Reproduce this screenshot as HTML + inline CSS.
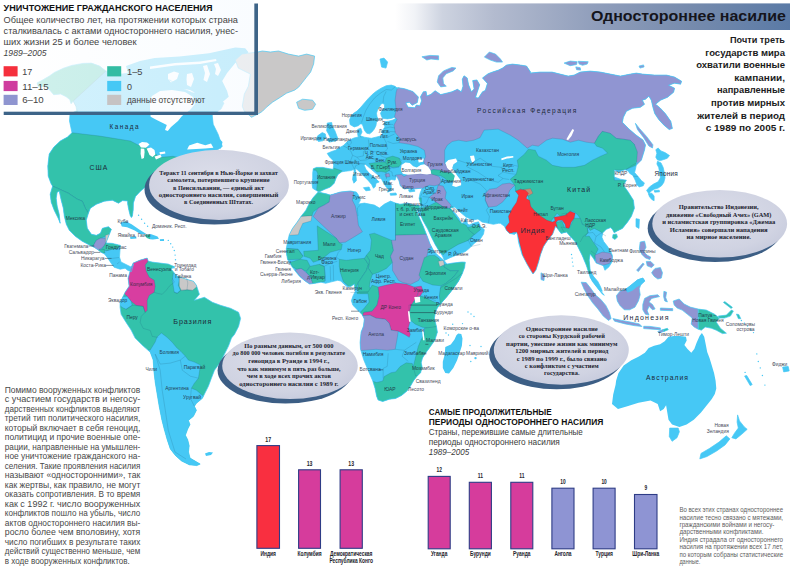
<!DOCTYPE html>
<html lang="ru"><head><meta charset="utf-8"><title>Одностороннее насилие</title>
<style>html,body{margin:0;padding:0;background:#fff}body{width:790px;height:568px;overflow:hidden}svg{display:block}text{font-family:"Liberation Sans",sans-serif}.sf{font-family:"Liberation Serif",serif;font-weight:bold}</style></head><body>
<svg width="790" height="568" viewBox="0 0 790 568">
<defs>
<clipPath id="cNA"><path d="M49.5 75.9L54.4 72.4L63.4 68.2L71.8 65.4L82.9 63.4L91.3 63.1L99.6 66.1L105.9 71L122 74L136 72L148 77L160 82L170 80L178 86L186 90L193 93L200 92L207 95L212 101L218 99L224 103L221 109L212.2 115.3L213.2 124.3L218.2 134.4L220.2 140.4L222.3 146.4L218.2 149.4L200 158L186 160L172 164L165 168L160 172L155 177L149.6 182.1L146.6 186.1L140.6 191.1L135.5 196.5L133.4 203L133.2 210L132.4 216L131.4 217.6L130.2 215.5L128.6 209L127.6 203.5L127.6 201L122.5 200.6L118.5 203.2L112.4 200.2L104.4 201.2L96.4 204.2L90.4 208.2L88.4 213.2L86.3 220.3L87.3 228.3L91.4 234.3L96.4 235.3L100.4 233.3L102.4 228.3L108.4 226.7L111.4 229.3L109.4 234.3L107.4 239.3L106 243L112.4 243.4L120.5 245.4L120 250L119.5 257L121 262L126 264.5L131 267L133.5 264L131.5 271.5L128 270.5L125.1 268.2L120.1 269.2L114.1 267.2L111 263L108 258.4L104.5 254L101.4 252.4L97.4 249.4L94.4 247.4L88.4 244.4L82.3 241.3L75.3 236.3L69.3 230.3L66.3 224.3L64.3 216.2L63.3 208.2L61.2 200.2L59.2 191.1L57.2 192.2L56.2 198.2L57.2 206.2L59.2 214.2L60.2 223.3L58.2 218.3L54.2 210.2L51.2 202.2L50.2 194.2L52.6 186.1L51.2 184.1L48.2 176.1L47.8 166L49.2 154L53.9 147L60.3 141L67.5 137L72 132.7L71 128L69.5 121L70 114.3L74 112L76.7 110.7L76 106.5L73.2 101L71.1 103.7L69.7 99.6L66.2 96.8L60.6 94L53.7 94.7L49.5 89.8L45.3 86.3L38.4 87L37 82.9L42.5 80.1Z"/><path d="M210 140L218 137.5L222.5 142L221 148.5L214 148L210.5 145Z"/><path d="M126 66L140 61L154.7 58.1L179.4 56.5L209 53.2L235.3 47.4L245.2 48.2L248.5 52.3L235.3 63L227.1 72.9L222.2 81.1L227.1 91L228.7 96.8L222.2 102.5L212.3 105.8L204 103.4L200 96L195.8 93L190 90L180 88L170 86L160 84L150 80L138 76L128 73Z"/></clipPath>
<clipPath id="cSA"><path d="M130.1 271.2L133.1 263.1L140.2 260.1L147.2 258.1L148.2 261.1L152.2 262.1L160.2 263.1L168.3 264.1L173.3 266.2L171.3 269.2L175.3 274.2L177.3 276.2L186.3 279.2L193.4 281.2L196.4 285.2L199.4 294.3L194.4 300.3L204.4 297.3L212.4 302.3L220.5 305.3L230.5 308.3L238.6 312.3L240.6 318.4L238.6 326.4L234.5 334.4L231.5 338L228.5 346.1L224.5 354.1L220.5 362.1L214.5 370.2L211.4 378.2L208.4 386.2L205.4 392.2L202.4 398.3L196.4 403.3L194.4 406.3L196.4 410.3L193.4 416.3L188.4 420.4L190 424.6L187.7 429.1L185.4 435.2L187.7 439.7L189.2 445.8L188.5 451.9L190 458L193.8 460.3L200.2 464.1L196.8 465.6L189.2 464.8L181.6 461L175.6 455.7L170.3 448.9L167.2 439.7L164.2 429.1L161.9 420L159.2 406.3L157.2 394.3L155.2 382.2L153.8 370.2L153.2 360.1L150.2 352.1L143.2 346.1L135.1 338L131.1 330L126.1 322.4L121.1 314.3L120.1 307.3L120.1 302.3L122.1 298.3L125.1 292.3L129.1 286.2L128.1 278.2Z"/><path d="M190 458L193.8 460.3L200.2 464.1L196.8 465.6L189.2 464.8Z"/></clipPath>
<clipPath id="cAF"><path d="M318.2 192L327.2 194.1L330.2 195.1L340.3 192L350.3 191L356.3 192L358.4 195.1L360.4 200.1L358.4 204.1L364.4 203.1L374.4 205.1L379.4 208.1L384.5 204.1L390.5 201.1L395.5 203.1L400 204.2L408 203.2L414.1 205.2L419.1 205.2L421 210L420.1 216.3L417.5 210L416 209L419 217L423.1 226L427.1 236L430.1 244L434.1 251.5L438.7 256L443.6 260L447 264L453 263L462 262L465.3 262.2L464.6 267.5L462.3 273.6L458.5 281.2L453.2 288.8L447.1 296.4L442.5 301.7L438 307L435.7 311L434.4 318.2L436.4 326.2L437.4 332.2L434.8 340.3L429 348.5L425.3 353.5L422.5 358L421.2 362.8L422.2 367.3L420.6 372.7L416.8 376.5L413.8 380.3L410.8 385.6L407 390.9L401.6 395.4L395.6 398.5L389.5 399.2L382.7 401.5L378.1 400L376.6 396.2L375.1 388.6L372.8 381L368.2 370.4L363.7 359.7L360.5 349.1L360.1 342.3L361.1 332.2L363.5 326L364.3 319L362 314.4L357.5 309.9L352.9 305.3L351.4 300.8L352.9 296.2L355.2 291.6L354.4 284L351 286.3L347.6 287.1L343.8 284L340.8 281L337.7 280.3L331.6 281.8L325.6 283.3L321 282.2L315 283.3L309.6 284L305.1 281L299.7 276.5L295.2 271.1L291.4 265.8L287.6 259.5L286.6 254.4L286.3 248.4L287.8 240.8L289.3 234.7L292.4 228.6L296.9 222.5L301.5 215.7L305.8 210.4L309 204L313 197.8Z"/></clipPath>
<clipPath id="cEA"><path d="M350.7 116.8L353.2 113.6L357 111.1L360.8 107.2L364.6 102.8L368.4 98.4L372.2 94.6L376 91.4L381.1 88.2L386.2 85.7L391.3 85.1L395.1 86.3L398.2 88.9L397.5 87.6L404.5 88.7L412.9 91.5L418.4 97.1L417.3 102.6L412.2 105.3L409.4 102.2L405.9 102.9L408 107.1L414.9 107.8L416.3 105L419.8 105.7L421.5 100.8L420.5 96.7L423.3 91.8L426.1 91.5L426.8 96L431 94.3L435.1 90.7L440.7 94.6L446.3 93.2L451.9 91.8L457.4 89.3L461.3 91.8L463 86.2L462.3 79.2L464 75.8L467.2 77.9L468.6 84.8L471.4 91.8L474.1 89L472.7 80.6L476.9 79.9L479.7 84.8L475.5 97.4L478.3 98.1L482.5 91.8L485.3 90.4L487.4 83.4L482.5 77.9L488.1 73.7L492.4 72.1L498.5 70.1L502.5 68.1L506.5 65.1L512.5 64.1L520.6 65.1L526.6 66.1L530.6 72.1L530 73.1L540 72.1L552.1 72.1L560.1 74.1L568.2 76.1L574.2 75.1L580.2 72.1L590.2 71.1L600.3 72.1L610.3 74.1L620.4 76.1L630.4 74.1L636.4 73.1L642.4 74.1L654.5 75.1L666.5 75.1L674.6 77.1L681.6 81.2L680.6 84.2L674.6 83.2L668.6 85.2L674.6 88.2L673.6 92.2L667.6 97.2L660.5 100.2L655.5 104.3L656.9 105.3L660.1 107.9L665.3 113.5L670.8 121.3L672.4 128.4L669.2 129.6L663.7 124.9L658.7 119.5L654.7 113.5L652.9 107.3L651.3 100.2L648.9 96.2L645.5 99.2L642.4 100.2L644.5 104.3L640.4 107.3L632.4 108.3L626.4 111.3L623.4 117.3L622.4 122.3L629 129L636 135L643 140L645.5 145L644.5 150L641.4 160.1L636.4 165.1L636.9 162.3L635.8 167.5L634.6 172.6L638.1 176.6L641.5 180.7L644.4 182.9L643.2 185.8L639.2 186.9L636.9 184.7L635.2 180.1L632.9 175.5L629.5 173.2L628.3 170.9L625 169.8L618.4 172.1L614.3 170.1L614.3 177.1L620.4 179.2L626.4 180.2L623.4 185.2L628.4 192.2L633.4 200.2L634.4 208.3L631.4 216.3L627.4 222.3L622.4 228.4L616.3 231.4L614.2 232.8L612.5 229.5L610.7 227.6L606.3 229.3L602.8 232.8L601.9 237.2L603.7 241.6L607.2 246L610.7 251.3L612.5 255.7L612 261.9L609 266.8L604.9 270.3L603.3 265.7L600.2 264.5L596.2 263.1L593.2 258.1L590.2 254.1L589.2 260.1L590.2 270.2L593.2 276.2L595.2 283.2L600.2 290.2L604.3 295.3L602.2 293.9L597.2 287.6L592.2 281.2L589.2 274.2L586.2 265.1L582 255L575.5 242L569.9 236L566.5 232L565.1 232.4L561.1 233.4L558.1 229.4L555.6 226.3L552.6 234.3L547.6 240.4L543.6 246.4L540.6 254.4L538.6 262L536 270L533 274L530.5 270L527 264.1L522 254.4L518.6 242.5L517.6 235.4L516.6 232.4L514.6 234.4L509.5 233.4L506.5 230.4L504.4 226.3L500.4 223.3L498.4 223.3L493.4 224.3L488.4 223.3L482 222L478 219L473 220L466 217L460 212L455 207L450.2 208.2L455.5 213.6L459.2 218.5L461.7 223.4L464.5 222L466 217.8L467.4 223.4L469 225L474 223L478.5 221.8L480.5 226.5L484.3 229.6L483.5 234.1L480.5 238.7L474.4 243.2L469.9 247.8L465.3 251.6L457.7 254.6L450.1 257.7L444.4 260.4L442.5 256.1L438.8 250.6L435.1 244.4L431.4 237L427.7 229L422.8 220.3L419.8 213L419.3 208.2L421 206L419.1 198.2L420.1 193.2L422.1 188.2L419.3 188.4L414.2 189L409.2 188.4L404.1 189L400.3 185.8L399 180.8L396.5 175.7L395.1 180.1L391.5 179.5L388.7 180.7L391.3 185.8L391.3 190.8L387.5 192.1L388.7 189.6L386.2 187L383.7 183.2L381.7 179.4L378.6 175.6L374.1 171.8L369.7 168L365.3 164.2L364 164.9L365.9 169.3L369.1 173.1L372.9 176.3L377.3 180.1L379.2 182L376 183.2L375.4 186.4L373.5 188.3L371.6 184.5L368.4 180.7L364.6 176.9L360.8 173.1L357.7 169.9L355.8 168.7L354.5 169.3L350.7 170.6L345.6 171.2L341.8 171.8L338 174.4L336.1 178.2L334.2 183.2L330.4 187L324.1 189.6L319 192.1L315.8 190.2L312.7 188.3L312 183.2L312.7 178.2L312.7 173.1L313.3 168.7L316.5 167.4L322.8 167.4L329.2 168.7L333.2 169.3L333.6 165.5L333 160.4L329.8 157.2L327.2 153.4L331.7 151.5L335.5 150.3L339.3 147.7L343.1 145.8L346.9 142L350.7 139.5L354 138L358.3 137L357.7 134.5L357.7 129.4L360.8 128.2L362.1 132L360.2 135.8L364.4 137.2L367.9 137.8L371.3 138.3L375.9 137.2L380.5 136L382.7 133.8L381.6 132L383.3 129.2L385 126.9L383.9 124.6L385 121.7L388.5 121.2L393 120L395.5 118.6L394.2 117.2L391.9 118.3L387.3 118.9L382.7 118.3L381.6 116.6L380.5 113.2L382.2 110.3L384.5 107.5L384.5 104.6L382.7 103.4L381 104L379.3 106.9L377.6 109.7L376.5 113.2L377 116.6L378.2 119.5L376.5 122.3L375.9 125.8L374.2 129.2L371.9 132L369.6 133.8L366.7 133.2L364.4 130.3L363.3 126.9L362.2 124L360.4 124L358.2 125.8L354.2 126.9L350.1 124.6L349.6 120Z"/></clipPath>
<linearGradient id="gTitle" x1="0" x2="1" y1="0" y2="0"><stop offset="0" stop-color="#ffffff"/><stop offset=".05" stop-color="#f1f3f7"/><stop offset=".12" stop-color="#cdd3e0"/><stop offset=".25" stop-color="#b3bbcf"/><stop offset=".5" stop-color="#919fbc"/><stop offset=".75" stop-color="#768bad"/><stop offset="1" stop-color="#5a7aa6"/></linearGradient>
<linearGradient id="gBox" x1="0" x2="1" y1="0" y2="0"><stop offset="0" stop-color="#ffffff" stop-opacity=".77"/><stop offset="1" stop-color="#f7fbff" stop-opacity=".73"/></linearGradient>
<radialGradient id="gEl" cx=".45" cy=".4" r=".75"><stop offset="0" stop-color="#dcdeea"/><stop offset=".65" stop-color="#d0d3e2"/><stop offset="1" stop-color="#c0c5d9"/></radialGradient>
</defs>
<rect width="790" height="568" fill="#fff"/>
<g id="map">
<g clip-path="url(#cNA)">
<rect x="30" y="40" width="220" height="250" fill="#46c8f5"/>
<path d="M40 132.7L72 132.7L100 136.1L130.4 141L138.5 145.2L146 147L152 151L158 156L161 157.3L173 156.3L187 159.4L205 165L205 226L88.4 226L88.4 213.2L85.3 208.2L82.3 201.2L77.3 199.2L68.3 193.2L58 188.5L52.6 186.1L40 186.1Z" fill="#33c2ab" stroke="#1f5f7d" stroke-opacity=".45" stroke-width=".45" stroke-linejoin="round"/>
<path d="M30 58L91.3 58L99.6 63L105.9 71L73.2 101L76 106.5L77.5 111.5L60 112L30 100Z" fill="#33c2ab" stroke="#1f5f7d" stroke-opacity=".45" stroke-width=".45" stroke-linejoin="round"/>
<path d="M45 186.1L52.6 186.1L58 188.5L68.3 193.2L77.3 199.2L82.3 201.2L85.3 208.2L88.4 213.2L98 213L116 225L113 231L108.4 235.3L105.4 236.3L100.4 238.3L96.4 240.3L93.4 245.4L94.4 250L45 250Z" fill="#33c2ab" stroke="#1f5f7d" stroke-opacity=".45" stroke-width=".45" stroke-linejoin="round"/>
<path d="M93.4 245.4L96.4 240.3L100.4 238.3L105.4 238.3L106.4 242.4L104.4 245.4L101.4 248.4L98 251L94 249Z" fill="#9095d2" stroke="#1f5f7d" stroke-opacity=".45" stroke-width=".45" stroke-linejoin="round"/>
<path d="M105.4 235.3L109.5 234L109.5 242.4L105.4 242.4Z" fill="#c9c8c8" stroke="#1f5f7d" stroke-opacity=".45" stroke-width=".45" stroke-linejoin="round"/>
<path d="M104.4 245.4L106 242L112.4 242.4L121.5 244.4L117.5 248.4L111.4 249.4L106.4 250.8L101.4 249.4Z" fill="#33c2ab" stroke="#1f5f7d" stroke-opacity=".45" stroke-width=".45" stroke-linejoin="round"/>
<path d="M99 249.2L104.4 249.6L105 253L99 253Z" fill="#33c2ab" stroke="#1f5f7d" stroke-opacity=".45" stroke-width=".45" stroke-linejoin="round"/>
</g>
<path d="M138.5 144L142 142L147 142.4L149.5 144.5L146 147.8L141 147.6Z" fill="#fff" />
<path d="M140.8 148.5L144.2 148.8L144.6 152L144 158L141.6 159L140.6 154Z" fill="#fff" />
<path d="M146.6 148.6L151 147.6L154.5 150L155.4 154.5L152.5 157L149.5 155L148 151.5Z" fill="#fff" />
<path d="M154.5 156.6L160.5 154.8L161.6 157L156 159.4Z" fill="#fff" />
<path d="M159.4 152.2L165 151.4L165.4 153.6L160 154.4Z" fill="#fff" />
<path d="M168 74L174 71.5L179 73L177 79L171 82.5L168 79Z" fill="#fff" />
<path d="M187 74L192 73L194 79L191 87L187 85L186.5 79Z" fill="#fff" />
<path d="M150 66.5L175 63L200 61.5L216 59L216.5 61L200 64L175 65.5L150 69Z" fill="#fff" />
<path d="M203 66L207 65L210 74L207 82L203.5 80L205 73Z" fill="#fff" />
<path d="M214 64L218 63L221 70L218 76L215 74L216 69Z" fill="#fff" />
<path d="M152 96L160 91L172 90L185 92L193 97L195 104L190 110L182 116L178 121L171 127L167.8 131L165 130L166.8 125L162.8 123L156.7 120L150.6 116.8L150 108L150 100Z" fill="#fff" />
<path d="M187.1 149.6L189.1 145.5L197.2 142.8L205.3 145.2L211 143.5L213.4 147.8L205 148.6Z" fill="#fff" />
<path d="M235.3 60.1L242 54L257.8 52L262.4 51L270.4 52L278.5 51L288.5 54.1L298.6 56.1L306.6 54.1L314.6 56.1L313.6 64.1L310.6 72.1L306.6 77.1L302.6 82.2L298.6 87.2L294.5 90.2L286.5 93.2L280.5 97.2L272.5 102.2L266.4 107.3L262.4 111.3L259.4 113.3L251.4 117.3L249.4 115.3L244.3 111.3L242.3 106.3L244.3 94.2L248.4 86.2L250.4 74.1L238.3 68.1Z" fill="#c9c8c8" stroke="#46c8f5" stroke-width=".7" stroke-linejoin="round"/>
<path d="M296.6 102.2L302.6 99.2L312.6 100.2L315.6 104.3L312.6 109.3L304.6 110.3L298.6 108.3Z" fill="#c9c8c8" stroke="#46c8f5" stroke-width=".7" stroke-linejoin="round"/>
<path d="M120.3 222.8L125.6 221.3L131.6 224.3L139.2 229.6L146.8 234.2L140.8 234.2L134.7 230.4L127.1 227.3L121.8 226.6Z" fill="#46c8f5" />
<path d="M144.6 234.9L150 234.2L150 239.2L146.8 238Z" fill="#33c2ab" />
<path d="M150 234.2L151.4 234.2L157.5 236.5L159 238.7L152.9 239.5L150 239.2Z" fill="#46c8f5" />
<path d="M130 236.8L136 236.6L136.5 238.6L130.5 239Z" fill="#46c8f5" />
<path d="M159.8 239.2L163.9 239L164.1 240.9L160 241.1Z" fill="#46c8f5" />
<path d="M171.5 266.2L174.7 265.8L174.7 268.2L171.7 268.4Z" fill="#46c8f5" />
<g clip-path="url(#cSA)">
<rect x="110" y="250" width="140" height="230" fill="#33c2ab"/>
<path d="M140 350.1L150.2 350.1L155.2 342L157 337L161.4 333L166.7 337L172 342L176.5 347.5L181 351.5L185.3 356.1L188.4 360.1L194.4 362.1L200.4 365.1L199.4 372.2L198.4 378.2L194.4 383.2L191.4 388.2L196.4 390.2L202.4 395.3L206 398L218 402L218 472L140 472Z" fill="#46c8f5" stroke="#1f5f7d" stroke-opacity=".45" stroke-width=".45" stroke-linejoin="round"/>
<path d="M129 272L132 262L140.2 259L147.2 257L148.2 261.1L145.2 265.1L146.2 271.2L149.2 277.2L154.2 280.2L155.2 286.2L154.2 292.3L149.2 295.3L147.2 300.3L147.2 310.3L145.2 312.3L143.2 306.3L136.1 305.3L131.1 301.3L127.1 296.3L123 292.3L127 286.2L126 278.2Z" fill="#d83ea0" stroke="#1f5f7d" stroke-opacity=".45" stroke-width=".45" stroke-linejoin="round"/>
<path d="M118 297L127.1 296.3L131.1 301.3L132.1 305.3L126.1 309.3L122.1 307.3L117 303Z" fill="#46c8f5" stroke="#1f5f7d" stroke-opacity=".45" stroke-width=".45" stroke-linejoin="round"/>
<path d="M173.3 273L178 274.5L179.3 280.2L178.3 285.2L180.3 290.2L177.3 293.3L174.3 292.3L173.3 286.2L172.3 280.2Z" fill="#46c8f5" stroke="#1f5f7d" stroke-opacity=".45" stroke-width=".45" stroke-linejoin="round"/>
<path d="M179.3 274L186.3 276.5L193.4 278.5L198.5 285.2L192.4 290.5L187.3 289.8L181.3 290.4L179.3 286.2Z" fill="#c9c8c8" stroke="#1f5f7d" stroke-opacity=".45" stroke-width=".45" stroke-linejoin="round"/>
</g>
<path d="M205 453.5L209 452L213 452.5L211 455L206 456Z" fill="#46c8f5" />
<g clip-path="url(#cAF)">
<rect x="280" y="185" width="200" height="225" fill="#46c8f5"/>
<path d="M316 190L331.3 194.1L329.2 202.1L324.2 205.1L318.2 208.1L313.2 212.1L311.9 216L296 217L300 204Z" fill="#33c2ab" stroke="#1f5f7d" stroke-opacity=".45" stroke-width=".45" stroke-linejoin="round"/>
<path d="M296 216.8L311.9 215.7L311.1 221L302.8 223.3L299.7 230.1L298.2 234.7L286 235.6L290 228Z" fill="#c9c8c8" stroke="#1f5f7d" stroke-opacity=".45" stroke-width=".45" stroke-linejoin="round"/>
<path d="M330.2 194.5L340.3 191L350.3 190L353.7 192.4L352.3 200.1L355.3 206.1L357.3 216.1L358.4 225.2L362.4 231.8L355.3 236.2L345.3 242.2L339.3 242.7L336.3 238.2L313.2 216.5L318.2 208.1L324.2 205.1L329.2 202.1Z" fill="#9095d2" stroke="#1f5f7d" stroke-opacity=".45" stroke-width=".45" stroke-linejoin="round"/>
<path d="M317.2 225.8L336.3 238.2L339.3 242.7L342.3 244.3L341.3 249.3L330.2 252.3L324.2 257.3L319.2 260.3L313.2 262.3L310.2 258.3L304.1 256.3L303.7 251.3L318.2 250.3Z" fill="#33c2ab" stroke="#1f5f7d" stroke-opacity=".45" stroke-width=".45" stroke-linejoin="round"/>
<path d="M285.1 248.3L298.1 249.3L303.1 256.3L300.1 259.3L287.1 259.7Z" fill="#33c2ab" stroke="#1f5f7d" stroke-opacity=".45" stroke-width=".45" stroke-linejoin="round"/>
<path d="M290.1 262.3L300.1 259.3L307.1 260.3L310.2 266.3L306.1 271.4L301.1 268.4L297.1 269.4L292.1 266.7Z" fill="#33c2ab" stroke="#1f5f7d" stroke-opacity=".45" stroke-width=".45" stroke-linejoin="round"/>
<path d="M295.1 269.8L301.1 268.4L306.1 272.4L310.2 276.4L313.8 284.4L308.2 284.4L302.1 278.8L297.1 272.8Z" fill="#9095d2" stroke="#1f5f7d" stroke-opacity=".45" stroke-width=".45" stroke-linejoin="round"/>
<path d="M310.2 266.3L319.2 264.3L324.2 266.3L325.2 276.4L324.6 281.4L318.2 282.4L313.2 284.8L310.2 276.4L306.1 272Z" fill="#33c2ab" stroke="#1f5f7d" stroke-opacity=".45" stroke-width=".45" stroke-linejoin="round"/>
<path d="M395.5 202.5L406.5 204.1L417.6 204.1L422.6 206.1L423.6 216.1L425.6 222.2L429.6 234.6L395.5 235.2Z" fill="#33c2ab" stroke="#1f5f7d" stroke-opacity=".45" stroke-width=".45" stroke-linejoin="round"/>
<path d="M369.4 234.2L374.4 233.2L391.5 240.2L393.5 250.3L390.5 256.3L392.5 262.3L386.5 268.4L378.4 272.4L372.4 274.4L368.4 268.4L369.4 260.3L366.4 255.3L370.4 250.3L371.4 240.2Z" fill="#33c2ab" stroke="#1f5f7d" stroke-opacity=".45" stroke-width=".45" stroke-linejoin="round"/>
<path d="M395.5 235.2L429.6 234.2L439.9 234L439.9 243.1L428.4 248.7L427 255.9L424.4 262.9L421 269L421.8 274.4L418.6 280.4L410.6 284.4L402.5 282.4L398.5 280.4L392.5 270.4L392.5 262.3L390.5 256.3L393.5 250.3L391.5 240.2L395.5 240.2Z" fill="#9095d2" stroke="#1f5f7d" stroke-opacity=".45" stroke-width=".45" stroke-linejoin="round"/>
<path d="M339.3 259.3L346.3 260.3L354.3 259.3L364.4 258.3L368.4 264.3L366.4 270.4L362.4 276.4L358.4 282.4L355.3 289.4L348.3 286L343.3 281.4L340.3 272.4L339.3 266.3Z" fill="#33c2ab" stroke="#1f5f7d" stroke-opacity=".45" stroke-width=".45" stroke-linejoin="round"/>
<path d="M364.4 258.3L366.4 255.3L369.4 260.3L368.4 268.4L372.4 274.4L370.4 280.4L369.4 286.4L372.4 292.4L360.4 293.5L357.3 290L358.4 282.4L362.4 276.4L366.4 270.4L368.4 264.3Z" fill="#33c2ab" stroke="#1f5f7d" stroke-opacity=".45" stroke-width=".45" stroke-linejoin="round"/>
<path d="M357.1 292.1L368.1 292.1L372.1 285.1L378.2 287.1L379.2 296.1L377.1 305.1L372.1 311.2L364.1 312.2L363.1 315.8L358.1 314.6L364.1 308.2L369.1 302.1L368.1 293.7L357.3 293.7Z" fill="#33c2ab" stroke="#1f5f7d" stroke-opacity=".45" stroke-width=".45" stroke-linejoin="round"/>
<path d="M378.2 287.1L386.2 285.1L396.2 283.1L406.3 284.1L414.3 287.1L419.3 290.1L416.3 298.1L411.3 305.1L409.3 312.2L410.3 320.2L408.3 328.2L410.3 334.3L409.3 337.3L404.3 334.3L398.2 331.2L391.2 330.2L389.2 323.2L385.2 319.2L376.1 318.2L370.1 315.2L362.5 315.8L363.7 312.6L372.1 311.2L377.1 305.1L379.2 296.1Z" fill="#d83ea0" stroke="#1f5f7d" stroke-opacity=".45" stroke-width=".45" stroke-linejoin="round"/>
<path d="M414.3 287.1L421.3 286.1L423.3 291.1L420.3 296.1L416.3 298.1L419.3 290.1Z" fill="#d83ea0" stroke="#1f5f7d" stroke-opacity=".45" stroke-width=".45" stroke-linejoin="round"/>
<path d="M408.9 305.1L412.3 304.7L412.7 313.2L409.3 313.2Z" fill="#d83ea0" stroke="#1f5f7d" stroke-opacity=".45" stroke-width=".45" stroke-linejoin="round"/>
<path d="M424.3 257.7L429 255.5L434.9 255.5L439 258.6L441 262.5L444.1 266.8L450.1 270.6L458.5 270.6L453.2 277.4L445.6 283.5L441 285.8L432.7 285L422.8 281.2L419 275.1L421.3 267.5Z" fill="#33c2ab" stroke="#1f5f7d" stroke-opacity=".45" stroke-width=".45" stroke-linejoin="round"/>
<path d="M438.3 261.2L443.3 260.4L444.4 264.8L439.8 266.8Z" fill="#c9c8c8" stroke="#1f5f7d" stroke-opacity=".45" stroke-width=".45" stroke-linejoin="round"/>
<path d="M444.1 264.8L450.1 263.7L466.8 260.7L466.8 269.1L460.8 278.2L450.1 293.4L441 304L439.8 296.4L440.7 286.5L445.6 283.5L453.2 277.4L458.5 270.6L450.1 270.6L444.1 266.8Z" fill="#33c2ab" stroke="#1f5f7d" stroke-opacity=".45" stroke-width=".45" stroke-linejoin="round"/>
<path d="M440.4 288.1L446.4 284.1L456.5 278L465.5 270L464.5 282L452.4 290.1L444.4 300.1L440.4 305.1L439.4 296.1Z" fill="#33c2ab" stroke="#1f5f7d" stroke-opacity=".45" stroke-width=".45" stroke-linejoin="round"/>
<path d="M360.1 315.8L370.1 315.2L376.1 318.2L385.2 319.2L389.2 323.2L391.2 330.2L398.2 331.2L397.2 338.3L395.2 349.3L387.2 350.3L376.1 349.3L359.1 350.7L358.1 330.2Z" fill="#9095d2" stroke="#1f5f7d" stroke-opacity=".45" stroke-width=".45" stroke-linejoin="round"/>
<path d="M416.3 298.1L420.3 296.1L426.3 298.1L434.4 302.1L442.4 305.1L438.4 310.2L436.4 318.2L439.4 326.6L428.4 328.2L422.3 327.2L415.3 324.2L410.3 320.2L409.3 312.2L411.3 305.1Z" fill="#33c2ab" stroke="#1f5f7d" stroke-opacity=".45" stroke-width=".45" stroke-linejoin="round"/>
<path d="M424.3 328.2L439.4 326.2L440.4 332.2L439.4 340.3L434.4 349.3L428.4 355.3L424.3 361.4L421.3 368.4L422.3 374.4L419.3 381.4L413.3 381.8L412.3 370.4L414.3 362.4L416.3 354.3L418.3 346.3L421.3 339.3L424.3 334.3Z" fill="#33c2ab" stroke="#1f5f7d" stroke-opacity=".45" stroke-width=".45" stroke-linejoin="round"/>
<path d="M371.3 380.7L376.6 382.5L382.7 381L384.2 376.5L391 372.7L395.6 371.9L400.1 366.6L406.2 362.8L412.3 363.5L413.8 368.9L415.6 375.7L418.4 375.7L416.8 379.5L410.8 387.1L401.6 397L389.5 400.8L382.7 403L376.6 400.8L373.5 390.1Z" fill="#33c2ab" stroke="#1f5f7d" stroke-opacity=".45" stroke-width=".45" stroke-linejoin="round"/>
<path d="M414.3 297.1L419.9 296.7L420.3 302.1L415.3 303.1Z" fill="#fff" />
<path d="M407.9 311.2L409.5 311.2L410.7 321.8L409.1 321.8Z" fill="#fff" />
<path d="M421.9 329.2L423.3 329.2L424.7 340.3L423.1 340.3Z" fill="#fff" />
</g>
<path d="M458.2 333.4L461.3 334L462.5 338.4L461.9 345.8L459.5 353.2L457 360.6L453.3 368L449 373.5L445.3 372.9L442.8 368L442.8 361.8L444.7 354.4L445.3 347L450.8 344.5L454.5 339.6L456.4 335.3Z" fill="#46c8f5" />
<g clip-path="url(#cEA)">
<rect x="300" y="40" width="400" height="270" fill="#46c8f5"/>
<path d="M400 80L396.1 92.2L395.1 100.2L396.1 110.3L394.5 117L397 119.5L394 125L395.2 132.6L400.3 138.9L399 142.7L407.9 144L418 146.5L424.4 150.3L425.6 156.7L423.7 160.5L424.4 164.3L428.2 166.8L430.7 170.6L433.2 169.6L439.6 170.2L445.9 172.6L452 173L448 168.1L444.5 163L444.6 157L444.6 150.3L447.2 145.3L452.2 141.5L458.6 140.2L466.2 141.5L473.8 140.2L480 137.7L484.1 130.1L498.2 129.1L510.2 135.1L518.2 140.2L527.3 148.2L532.3 145.2L538.3 146.2L546.4 140.2L552.4 138.2L562.4 139.2L570.4 142.2L578.5 140.2L586.5 142.2L594.5 143.2L598.3 136.4L602.3 131.4L610.3 133.4L616.3 138.4L624.4 139.4L630.4 140.4L634.4 144.4L635.4 154.1L634.4 152L636.4 165.1L650.5 165.1L700 150L700 40L400 40Z" fill="#9095d2" stroke="#1f5f7d" stroke-opacity=".45" stroke-width=".45" stroke-linejoin="round"/>
<path d="M316.2 165L322.8 165.4L329.2 166.7L334.5 168.3L342.5 171L339.5 174.4L337.5 178.2L335.5 183.2L331.5 188L324.1 191L319 193.5L316.6 190L317.2 184L318 178L317.6 173L316 170.2L311 170L311 165Z" fill="#33c2ab" stroke="#1f5f7d" stroke-opacity=".45" stroke-width=".45" stroke-linejoin="round"/>
<path d="M386.3 158L392.7 156.1L399 158L401.5 163L399 166.8L392.7 167.5L387.6 165.6L385.1 161.8Z" fill="#33c2ab" stroke="#1f5f7d" stroke-opacity=".45" stroke-width=".45" stroke-linejoin="round"/>
<path d="M369 163.5L378 162.2L385 162L388 165.5L390 170L386 172.5L381 171.5L377 172L373 168.5Z" fill="#33c2ab" stroke="#1f5f7d" stroke-opacity=".45" stroke-width=".45" stroke-linejoin="round"/>
<path d="M385 174L389 173.2L390 176.6L386 177.2Z" fill="#9095d2" stroke="#1f5f7d" stroke-opacity=".45" stroke-width=".45" stroke-linejoin="round"/>
<path d="M395.5 175L401.5 174.4L404 176.6L407.9 174.5L414.2 174L420.6 173.6L426.9 174.2L431.3 173.6L435.8 175.1L439.6 177L440.8 180.8L439.6 184.6L434.5 185.8L429.4 185.2L424.4 187.1L421 190L414.2 190.5L409.2 190L404.1 190.5L399 187L397.5 180.8Z" fill="#9095d2" stroke="#1f5f7d" stroke-opacity=".45" stroke-width=".45" stroke-linejoin="round"/>
<path d="M430.5 170.6L433.2 169.6L439.6 170.2L445.9 172.6L452 172.5L455 176L453.5 181L448.5 182L444.6 178.2L440.8 175.7L436 175.3L431.5 174Z" fill="#33c2ab" stroke="#1f5f7d" stroke-opacity=".45" stroke-width=".45" stroke-linejoin="round"/>
<path d="M438.2 185.1L443.2 186.1L446.2 192.2L445.2 198.2L451.2 205.2L450.2 208.6L444.2 207.6L436.1 202.2L429.1 197.2L436.1 192.2Z" fill="#9095d2" stroke="#1f5f7d" stroke-opacity=".45" stroke-width=".45" stroke-linejoin="round"/>
<path d="M426.1 207.2L436.1 202.2L444.2 207.6L450.2 208.6L454.2 214.3L460.2 222.3L466.3 225.3L469.3 230.3L474.3 234.3L468.3 240.4L458.2 244.4L448.2 250.4L443.2 254.8L438.2 250.4L432.1 238.4L425.1 226.3L420.1 214.3L420.1 208.2Z" fill="#33c2ab" stroke="#1f5f7d" stroke-opacity=".45" stroke-width=".45" stroke-linejoin="round"/>
<path d="M467.9 227.5L477.9 224.7L480.7 229.5L474.7 234.5L469.5 230.7Z" fill="#33c2ab" stroke="#1f5f7d" stroke-opacity=".45" stroke-width=".45" stroke-linejoin="round"/>
<path d="M418.1 197.8L421.3 197.8L421.7 208.6L418.5 208.6Z" fill="#33c2ab" stroke="#1f5f7d" stroke-opacity=".45" stroke-width=".45" stroke-linejoin="round"/>
<path d="M450.2 206.8L453 206.8L453 209.8L450.2 209.8Z" fill="#33c2ab" stroke="#1f5f7d" stroke-opacity=".45" stroke-width=".45" stroke-linejoin="round"/>
<path d="M485.3 193.2L489.4 189.2L496.4 188.2L502.4 184.1L509.4 183.1L514.9 185.1L509.8 190.2L507.4 196.2L502.4 202.2L496.4 206.2L488.4 207.2L485.3 200.2Z" fill="#9095d2" stroke="#1f5f7d" stroke-opacity=".45" stroke-width=".45" stroke-linejoin="round"/>
<path d="M514.9 185.3L510.2 179.3L516.2 174.3L518.2 166.3L517.2 160.2L524.3 154.2L528.3 149.2L535.3 150.2L538.3 156.2L546.4 160.2L552.4 165.3L562.4 167.3L574.5 167.3L584.5 165.3L592.5 160.2L600.6 156.2L607.6 153.2L602.6 148.2L596.6 146.2L594.5 143.2L598.6 136.1L602.3 131.4L610.3 133.4L616.3 138.4L624.4 139.4L630.4 140.4L634.4 144.4L637.4 152L636.4 165.1L624.4 170.1L614.3 170.1L614.3 180.2L630.4 180.2L642.4 204.3L634.4 224.3L616.3 234.4L605.3 234.8L598.3 230.4L594.3 228.4L590.2 230.4L587.2 226.3L582.2 224.3L580.2 218.3L577.2 214.3L573.2 211.3L570.2 211.3L565.1 215.3L560.1 216.3L557.1 213.3L550.1 222.3L542 218.3L534 212.3L530 208.3L528.5 197.2L525.5 190.2L520.5 189.2L515.5 191.2Z" fill="#33c2ab" stroke="#1f5f7d" stroke-opacity=".45" stroke-width=".45" stroke-linejoin="round"/>
<path d="M523.5 189.4L530.5 188.6L532.9 193.2L528.5 195.8L524.9 193.2Z" fill="#c98a72" stroke="#1f5f7d" stroke-opacity=".45" stroke-width=".45" stroke-linejoin="round"/>
<path d="M515.5 191.2L520.5 189.2L525.5 190.2L528.5 193.2L526.1 198.2L529.7 200.6L530.7 206.2L534.7 211L541 216.3L547 220.3L552.6 221.9L555 220.7L554.1 217.3L560.1 216.3L565.1 215.3L570.2 211.3L575.2 213.3L574.2 218.3L571.2 222.3L569.2 228.4L566.1 229.4L565.1 224.3L562.1 220.3L558.1 220.3L556.1 222.3L558.1 229.4L554.1 234.4L555.6 229.3L558.6 238.4L552.6 250.4L544.6 262.4L545 285L520 285L522.5 254.4L518.5 238.4L516.5 232.3L513.5 232.3L508.4 234.3L504.4 228.7L509.4 222.3L508.4 216.3L512.4 208.2L516.5 202.2L518.5 195.2Z" fill="#fa3037" stroke="#1f5f7d" stroke-opacity=".45" stroke-width=".45" stroke-linejoin="round"/>
<path d="M556.1 222.3L562.1 221.3L564.1 226.3L565.7 233.4L561.1 234.4L558.1 229.4Z" fill="#33c2ab" stroke="#1f5f7d" stroke-opacity=".45" stroke-width=".45" stroke-linejoin="round"/>
<path d="M569.2 228.4L574.2 218.3L580.2 218.3L582.2 224.3L587.2 226.3L588.2 232.4L585.2 236.4L589.2 236L593.2 242L598.2 249.1L595.2 255.1L594.2 262.1L590.2 270.2L592.6 279.2L587.2 281.2L580.2 266.1L573.1 248.1L564.1 232L561.1 227Z" fill="#33c2ab" stroke="#1f5f7d" stroke-opacity=".45" stroke-width=".45" stroke-linejoin="round"/>
<path d="M595.2 255.1L602.2 252.1L610.3 253.1L613.3 258.1L609.3 263.5L602.2 265.5L596.2 263.1Z" fill="#9095d2" stroke="#1f5f7d" stroke-opacity=".45" stroke-width=".45" stroke-linejoin="round"/>
</g>
<path d="M401.5 164.9L405.3 162.4L409.8 163L413.2 166.2L416.8 167.5L420.6 164.9L424.4 164.3L428.2 166.8L430.7 170.6L431.3 173.8L426.9 174.4L420.6 173.8L414.2 174.2L407.9 174.7L402.8 173.8L400.9 170Z" fill="#fff" />
<path d="M445.3 163L448.4 159.9L456 158.6L457.3 161.8L453.5 164.3L452.2 168.1L454.8 171.9L457.3 175.7L461.1 180.8L461.1 185.2L456 187.1L452.2 185.8L453.5 180.8L454.8 175.7L451 171.9L447.2 168.1Z" fill="#fff" />
<path d="M418 159L423.7 158.6L423.1 161.8L418.7 162.4Z" fill="#fff" />
<path d="M470 156L474 155.5L475 160L472.5 163L471 160Z" fill="#fff" />
<path d="M566.4 139.2L569.4 134.1L572.5 129.1L574.1 130.1L571.5 136.1L568 140.2Z" fill="#fff" />
<path d="M501.2 158.4L507 156.6L513.2 156L513.4 157.6L507 158.6L501.6 160.2Z" fill="#fff" />
<path d="M327.2 123.1L331.7 122.5L332.3 126.3L334.9 130.7L336.8 135.8L338 138.9L336.1 140.8L329.2 142.1L327.2 139.6L330.4 137.7L328.5 133.9L326.6 130.7L327.2 126.9Z" fill="#46c8f5" stroke="#46c8f5" stroke-width=".7" stroke-linejoin="round"/>
<path d="M317.7 135.8L322.2 132.6L325.3 133.9L326 137.7L322.8 140.8L318.4 141.5L316.5 138.9Z" fill="#46c8f5" stroke="#46c8f5" stroke-width=".7" stroke-linejoin="round"/>
<path d="M363.4 187.7L369.1 187L370.3 190.2L365.9 190.8Z" fill="#46c8f5" stroke="#46c8f5" stroke-width=".7" stroke-linejoin="round"/>
<path d="M353.2 174.4L355.8 173.7L356.4 180.7L353.9 183.2L352.6 179.4Z" fill="#46c8f5" stroke="#46c8f5" stroke-width=".7" stroke-linejoin="round"/>
<path d="M353.9 169.3L355.5 169.5L355.8 173.2L354.2 173.2Z" fill="#46c8f5" stroke="#46c8f5" stroke-width=".7" stroke-linejoin="round"/>
<path d="M408.5 189.8L414 189.2L415 191.2L409.5 192Z" fill="#46c8f5" stroke="#46c8f5" stroke-width=".7" stroke-linejoin="round"/>
<path d="M390 193.5L396 193L396.5 195L390.5 195.3Z" fill="#46c8f5" stroke="#46c8f5" stroke-width=".7" stroke-linejoin="round"/>
<path d="M380 59.1L384 58.1L387.6 62.1L386 68.1L381.6 67.1Z" fill="#46c8f5" stroke="#46c8f5" stroke-width=".7" stroke-linejoin="round"/>
<path d="M437.2 82L438.6 75.8L443.5 70.9L451.9 67.4L456 68.1L453.2 70.9L446.3 73.7L442.8 77.9L443.5 83.4L446.3 86.2L440.7 86.9Z" fill="#9095d2" stroke="#46c8f5" stroke-width=".7" stroke-linejoin="round"/>
<path d="M421.9 56.8L430 55.4L438.6 55.8L438.6 59.8L431 59L426.8 60Z" fill="#9095d2" stroke="#46c8f5" stroke-width=".7" stroke-linejoin="round"/>
<path d="M484.4 57.1L489.4 52L495.5 54.1L500.5 59.1L502.5 62.1L496.5 62.1L490.4 60.1Z" fill="#9095d2" stroke="#46c8f5" stroke-width=".7" stroke-linejoin="round"/>
<path d="M564.1 63.1L570.2 61.1L577.2 61.7L576.6 64.5L570.2 65.7Z" fill="#9095d2" stroke="#46c8f5" stroke-width=".7" stroke-linejoin="round"/>
<path d="M578.2 61.3L588.2 61.7L587.2 64.1L582.6 65.3L579.2 64.1Z" fill="#9095d2" stroke="#46c8f5" stroke-width=".7" stroke-linejoin="round"/>
<path d="M575.8 66.9L580.2 67.7L580.6 70.1L576.6 69.7Z" fill="#9095d2" stroke="#46c8f5" stroke-width=".7" stroke-linejoin="round"/>
<path d="M639 66.1L643.5 64.9L644.1 66.9L640 68.1Z" fill="#9095d2" stroke="#46c8f5" stroke-width=".7" stroke-linejoin="round"/>
<path d="M635.4 123.3L639.4 128.4L646.5 136.4L652.9 144.8L652.5 148L648.9 146L643.5 137.4L637.4 129.4Z" fill="#9095d2" stroke="#46c8f5" stroke-width=".7" stroke-linejoin="round"/>
<path d="M655.8 149.7L658.1 148L661 150.9L665 152.6L669.5 155.5L667.3 158.3L663.8 159.5L660.4 160.6L657.5 160L655.8 157.2L656.9 153.2Z" fill="#46c8f5" stroke="#46c8f5" stroke-width=".7" stroke-linejoin="round"/>
<path d="M657.5 161.2L661 162.9L663.2 167.5L664.4 173.2L665 177.8L663.8 182.4L661.5 185.8L658.1 188.1L654.1 189.2L651.2 191L648.9 193.8L646.6 190.4L649.5 186.9L653.5 184.1L658.1 181.8L660.4 177.8L659.8 173.2L658.7 167.5L656.9 164Z" fill="#46c8f5" stroke="#46c8f5" stroke-width=".7" stroke-linejoin="round"/>
<path d="M648.4 193.8L651.8 193.2L654.1 196.1L654.1 200.7L651.8 199.5L649.5 196.7Z" fill="#46c8f5" stroke="#46c8f5" stroke-width=".7" stroke-linejoin="round"/>
<path d="M654.1 190.4L659.2 190.2L659.5 191.8L654.7 192.2Z" fill="#46c8f5" stroke="#46c8f5" stroke-width=".7" stroke-linejoin="round"/>
<path d="M636 218.7L639.4 219.3L639 228.4L636 226.7Z" fill="#46c8f5" stroke="#46c8f5" stroke-width=".7" stroke-linejoin="round"/>
<path d="M613 234.5L616.5 234L617.5 237L615 239.5L612.5 238Z" fill="#33c2ab" stroke="#46c8f5" stroke-width=".7" stroke-linejoin="round"/>
<path d="M541 272.8L544.4 275.2L544 280.6L541 279.6Z" fill="#9095d2" stroke="#46c8f5" stroke-width=".7" stroke-linejoin="round"/>
<path d="M581.2 282.2L586.2 282.6L590.5 288L595.3 294.8L600.6 299.2L605.8 305.4L609.4 312.4L611.1 318.6L608.5 320.4L603.2 316L597.9 308.9L592.6 302.8L588 296L584 289Z" fill="#9095d2" stroke="#46c8f5" stroke-width=".7" stroke-linejoin="round"/>
<path d="M612.9 318.6L621.7 320.4L630.5 322.1L639.3 323.9L641.9 326.5L634 325.6L625.2 323.9L614.6 321.2Z" fill="#9095d2" stroke="#46c8f5" stroke-width=".7" stroke-linejoin="round"/>
<path d="M616.4 295.7L619.9 291.3L627 288.7L632.2 284.3L637.5 279.9L642.8 278.1L644.6 280.8L641 284.3L639.3 288.7L640.2 294.8L638.4 301L634.9 307.2L629.6 309.8L624.3 309.8L619.9 305.4L617.3 301Z" fill="#9095d2" stroke="#46c8f5" stroke-width=".7" stroke-linejoin="round"/>
<path d="M625.2 289.6L632.2 284.3L637.5 279.9L642.8 278.1L644.9 281.1L641 284.6L636.6 286.9L632.2 290.4L627.8 292.2Z" fill="#46c8f5" stroke="#46c8f5" stroke-width=".7" stroke-linejoin="round"/>
<path d="M590 272.8L593.5 276.4L597.9 281.6L600.6 286.9L602.3 291.3L599.7 290.4L596.2 286L592.6 280.8L590 277.2Z" fill="#46c8f5" stroke="#46c8f5" stroke-width=".7" stroke-linejoin="round"/>
<path d="M642.8 304.5L644.6 298.4L649.8 295.7L657.8 294.8L659.5 296.6L651.6 298.4L649 301.9L652.5 304.5L655.1 308.9L652.5 309.8L649 306.3L647.2 310.7L649 315.1L645.4 314.2L642.8 309.8Z" fill="#9095d2" stroke="#46c8f5" stroke-width=".7" stroke-linejoin="round"/>
<path d="M640.2 242L644.6 241.2L646 247.3L643.7 251.7L647.2 255.2L650.7 257L649.8 259.6L645.4 257.9L641.9 254.4L639.3 249.1Z" fill="#9095d2" stroke="#46c8f5" stroke-width=".7" stroke-linejoin="round"/>
<path d="M655.1 268.4L660.4 267.6L662.5 272.8L661.3 278.1L657.8 279L654.2 276.4L651.6 272.8L653.4 270.2Z" fill="#9095d2" stroke="#46c8f5" stroke-width=".7" stroke-linejoin="round"/>
<path d="M646.3 261.4L650.7 261.4L654.2 264.9L651.6 267.6L647.2 265.8Z" fill="#9095d2" stroke="#46c8f5" stroke-width=".7" stroke-linejoin="round"/>
<path d="M636.6 270.2L642.8 263.2L644.2 264L638.4 271.6Z" fill="#9095d2" stroke="#46c8f5" stroke-width=".7" stroke-linejoin="round"/>
<path d="M663.9 291.3L666.6 292.2L665.7 297.5L667.4 301.9L664.8 301L663.6 296.6Z" fill="#9095d2" stroke="#46c8f5" stroke-width=".7" stroke-linejoin="round"/>
<path d="M660.4 308L672.7 308.6L672.7 310.7L660.4 310.3Z" fill="#9095d2" stroke="#46c8f5" stroke-width=".7" stroke-linejoin="round"/>
<path d="M643.7 326.3L650 326.4L660.4 327.9L660.4 329.7L650 329L643.7 328.6Z" fill="#9095d2" stroke="#46c8f5" stroke-width=".7" stroke-linejoin="round"/>
<path d="M657.8 331.4L663 329.6L664 331.4L659 332.9Z" fill="#9095d2" stroke="#46c8f5" stroke-width=".7" stroke-linejoin="round"/>
<path d="M663 329.6L667.4 328.3L668.3 329.7L664 331.4Z" fill="#33c2ab" stroke="#46c8f5" stroke-width=".7" stroke-linejoin="round"/>
<path d="M673.2 301L679.2 299L684.2 304.1L690.2 307.1L698.3 309.1L698.3 329.2L694.2 327.1L691.2 324.1L692.2 318.1L687.2 314.1L682.2 310.1L677.2 308.1L674.2 305.1Z" fill="#9095d2" stroke="#46c8f5" stroke-width=".7" stroke-linejoin="round"/>
<path d="M698.3 309.1L706.3 310.1L714.3 314.1L719.3 318.1L716.3 322.1L720.4 328.2L726.4 333.2L722.4 333.6L716.3 330.2L711.3 328.2L705.3 327.1L701.3 330.2L698.3 329.2Z" fill="#33c2ab" stroke="#46c8f5" stroke-width=".7" stroke-linejoin="round"/>
<path d="M718.3 316.1L726.4 315.1L731.4 310.1L733.4 311.1L730.4 316.1L724.4 318.1L719.3 318.1Z" fill="#33c2ab" stroke="#46c8f5" stroke-width=".7" stroke-linejoin="round"/>
<path d="M723.4 302.4L724.8 301.6L732.4 307.3L731.2 308.5Z" fill="#33c2ab" stroke="#46c8f5" stroke-width=".7" stroke-linejoin="round"/>
<path d="M736.4 314.1L738.8 314.5L740.8 318.7L738.4 318.7Z" fill="#33c2ab" stroke="#46c8f5" stroke-width=".7" stroke-linejoin="round"/>
<path d="M669.7 428.1L678.2 428.1L679.4 431.7L677 437.7L672.1 441.3L669.3 436.5Z" fill="#46c8f5" stroke="#46c8f5" stroke-width=".7" stroke-linejoin="round"/>
<path d="M737.6 414.9L739.5 420.9L744.3 426.9L747.2 429.3L741.9 434.1L735.9 438.9L731.8 437.7L734.7 432.9L738.3 428.1L737.1 422.1Z" fill="#46c8f5" stroke="#46c8f5" stroke-width=".7" stroke-linejoin="round"/>
<path d="M726.3 435.8L729.9 438.9L725.1 444.9L716.6 451L707 456.5L699.8 458.9L701 453.4L709.4 448.5L719 442.1Z" fill="#46c8f5" stroke="#46c8f5" stroke-width=".7" stroke-linejoin="round"/>
<path d="M744.6 376L746.7 375.5L752.2 384.6L750.2 385.6Z" fill="#46c8f5" stroke="#46c8f5" stroke-width=".7" stroke-linejoin="round"/>
<path d="M782.6 367.1L788.2 366.4L789.2 370.9L783.7 371.9Z" fill="#46c8f5" stroke="#46c8f5" stroke-width=".7" stroke-linejoin="round"/>
<path d="M616.1 380.8L618.4 373.2L623.7 365.6L631.3 360.3L638.9 356.5L644.9 352.7L648.7 348.1L654.1 345.8L660.1 344.3L664.7 341.3L668.5 336.7L673.8 336L679.9 336L686 336.7L686.7 340.5L684.4 345.1L687.5 348.9L691.3 352.7L694.3 348.9L696.6 342.8L699.6 336L701.9 332.9L704.2 336.7L705.7 344.3L707.2 351.9L709.5 358L711.8 365.6L714.1 373.2L715.6 380.8L716.3 388.4L714.8 394L711.8 399L707 405L701 412.5L693.8 419.7L686.6 424.5L679.4 426.9L672.1 424.5L668.5 419.7L667.3 412.5L666.1 405.3L663.7 408.9L660.1 411.3L657.7 404L650.5 400.4L638.5 402.8L626.5 406.5L618 408.9L612 404L613.2 394.4L615.6 384.8Z" fill="#46c8f5" />
<path d="M49.5 75.9L54.4 72.4L63.4 68.2L71.8 65.4L82.9 63.4L91.3 63.1L99.6 66.1L105.9 71L122 74L136 72L148 77L160 82L170 80L178 86L186 90L193 93L200 92L207 95L212 101L218 99L224 103L221 109L212.2 115.3L213.2 124.3L218.2 134.4L220.2 140.4L222.3 146.4L218.2 149.4L200 158L186 160L172 164L165 168L160 172L155 177L149.6 182.1L146.6 186.1L140.6 191.1L135.5 196.5L133.4 203L133.2 210L132.4 216L131.4 217.6L130.2 215.5L128.6 209L127.6 203.5L127.6 201L122.5 200.6L118.5 203.2L112.4 200.2L104.4 201.2L96.4 204.2L90.4 208.2L88.4 213.2L86.3 220.3L87.3 228.3L91.4 234.3L96.4 235.3L100.4 233.3L102.4 228.3L108.4 226.7L111.4 229.3L109.4 234.3L107.4 239.3L106 243L112.4 243.4L120.5 245.4L120 250L119.5 257L121 262L126 264.5L131 267L133.5 264L131.5 271.5L128 270.5L125.1 268.2L120.1 269.2L114.1 267.2L111 263L108 258.4L104.5 254L101.4 252.4L97.4 249.4L94.4 247.4L88.4 244.4L82.3 241.3L75.3 236.3L69.3 230.3L66.3 224.3L64.3 216.2L63.3 208.2L61.2 200.2L59.2 191.1L57.2 192.2L56.2 198.2L57.2 206.2L59.2 214.2L60.2 223.3L58.2 218.3L54.2 210.2L51.2 202.2L50.2 194.2L52.6 186.1L51.2 184.1L48.2 176.1L47.8 166L49.2 154L53.9 147L60.3 141L67.5 137L72 132.7L71 128L69.5 121L70 114.3L74 112L76.7 110.7L76 106.5L73.2 101L71.1 103.7L69.7 99.6L66.2 96.8L60.6 94L53.7 94.7L49.5 89.8L45.3 86.3L38.4 87L37 82.9L42.5 80.1Z" fill="none" stroke="#46c8f5" stroke-width=".7" stroke-linejoin="round"/>
<path d="M130.1 271.2L133.1 263.1L140.2 260.1L147.2 258.1L148.2 261.1L152.2 262.1L160.2 263.1L168.3 264.1L173.3 266.2L171.3 269.2L175.3 274.2L177.3 276.2L186.3 279.2L193.4 281.2L196.4 285.2L199.4 294.3L194.4 300.3L204.4 297.3L212.4 302.3L220.5 305.3L230.5 308.3L238.6 312.3L240.6 318.4L238.6 326.4L234.5 334.4L231.5 338L228.5 346.1L224.5 354.1L220.5 362.1L214.5 370.2L211.4 378.2L208.4 386.2L205.4 392.2L202.4 398.3L196.4 403.3L194.4 406.3L196.4 410.3L193.4 416.3L188.4 420.4L190 424.6L187.7 429.1L185.4 435.2L187.7 439.7L189.2 445.8L188.5 451.9L190 458L193.8 460.3L200.2 464.1L196.8 465.6L189.2 464.8L181.6 461L175.6 455.7L170.3 448.9L167.2 439.7L164.2 429.1L161.9 420L159.2 406.3L157.2 394.3L155.2 382.2L153.8 370.2L153.2 360.1L150.2 352.1L143.2 346.1L135.1 338L131.1 330L126.1 322.4L121.1 314.3L120.1 307.3L120.1 302.3L122.1 298.3L125.1 292.3L129.1 286.2L128.1 278.2Z" fill="none" stroke="#46c8f5" stroke-width=".7" stroke-linejoin="round"/>
<path d="M318.2 192L327.2 194.1L330.2 195.1L340.3 192L350.3 191L356.3 192L358.4 195.1L360.4 200.1L358.4 204.1L364.4 203.1L374.4 205.1L379.4 208.1L384.5 204.1L390.5 201.1L395.5 203.1L400 204.2L408 203.2L414.1 205.2L419.1 205.2L421 210L420.1 216.3L417.5 210L416 209L419 217L423.1 226L427.1 236L430.1 244L434.1 251.5L438.7 256L443.6 260L447 264L453 263L462 262L465.3 262.2L464.6 267.5L462.3 273.6L458.5 281.2L453.2 288.8L447.1 296.4L442.5 301.7L438 307L435.7 311L434.4 318.2L436.4 326.2L437.4 332.2L434.8 340.3L429 348.5L425.3 353.5L422.5 358L421.2 362.8L422.2 367.3L420.6 372.7L416.8 376.5L413.8 380.3L410.8 385.6L407 390.9L401.6 395.4L395.6 398.5L389.5 399.2L382.7 401.5L378.1 400L376.6 396.2L375.1 388.6L372.8 381L368.2 370.4L363.7 359.7L360.5 349.1L360.1 342.3L361.1 332.2L363.5 326L364.3 319L362 314.4L357.5 309.9L352.9 305.3L351.4 300.8L352.9 296.2L355.2 291.6L354.4 284L351 286.3L347.6 287.1L343.8 284L340.8 281L337.7 280.3L331.6 281.8L325.6 283.3L321 282.2L315 283.3L309.6 284L305.1 281L299.7 276.5L295.2 271.1L291.4 265.8L287.6 259.5L286.6 254.4L286.3 248.4L287.8 240.8L289.3 234.7L292.4 228.6L296.9 222.5L301.5 215.7L305.8 210.4L309 204L313 197.8Z" fill="none" stroke="#46c8f5" stroke-width=".7" stroke-linejoin="round"/>
<path d="M350.7 116.8L353.2 113.6L357 111.1L360.8 107.2L364.6 102.8L368.4 98.4L372.2 94.6L376 91.4L381.1 88.2L386.2 85.7L391.3 85.1L395.1 86.3L398.2 88.9L397.5 87.6L404.5 88.7L412.9 91.5L418.4 97.1L417.3 102.6L412.2 105.3L409.4 102.2L405.9 102.9L408 107.1L414.9 107.8L416.3 105L419.8 105.7L421.5 100.8L420.5 96.7L423.3 91.8L426.1 91.5L426.8 96L431 94.3L435.1 90.7L440.7 94.6L446.3 93.2L451.9 91.8L457.4 89.3L461.3 91.8L463 86.2L462.3 79.2L464 75.8L467.2 77.9L468.6 84.8L471.4 91.8L474.1 89L472.7 80.6L476.9 79.9L479.7 84.8L475.5 97.4L478.3 98.1L482.5 91.8L485.3 90.4L487.4 83.4L482.5 77.9L488.1 73.7L492.4 72.1L498.5 70.1L502.5 68.1L506.5 65.1L512.5 64.1L520.6 65.1L526.6 66.1L530.6 72.1L530 73.1L540 72.1L552.1 72.1L560.1 74.1L568.2 76.1L574.2 75.1L580.2 72.1L590.2 71.1L600.3 72.1L610.3 74.1L620.4 76.1L630.4 74.1L636.4 73.1L642.4 74.1L654.5 75.1L666.5 75.1L674.6 77.1L681.6 81.2L680.6 84.2L674.6 83.2L668.6 85.2L674.6 88.2L673.6 92.2L667.6 97.2L660.5 100.2L655.5 104.3L656.9 105.3L660.1 107.9L665.3 113.5L670.8 121.3L672.4 128.4L669.2 129.6L663.7 124.9L658.7 119.5L654.7 113.5L652.9 107.3L651.3 100.2L648.9 96.2L645.5 99.2L642.4 100.2L644.5 104.3L640.4 107.3L632.4 108.3L626.4 111.3L623.4 117.3L622.4 122.3L629 129L636 135L643 140L645.5 145L644.5 150L641.4 160.1L636.4 165.1L636.9 162.3L635.8 167.5L634.6 172.6L638.1 176.6L641.5 180.7L644.4 182.9L643.2 185.8L639.2 186.9L636.9 184.7L635.2 180.1L632.9 175.5L629.5 173.2L628.3 170.9L625 169.8L618.4 172.1L614.3 170.1L614.3 177.1L620.4 179.2L626.4 180.2L623.4 185.2L628.4 192.2L633.4 200.2L634.4 208.3L631.4 216.3L627.4 222.3L622.4 228.4L616.3 231.4L614.2 232.8L612.5 229.5L610.7 227.6L606.3 229.3L602.8 232.8L601.9 237.2L603.7 241.6L607.2 246L610.7 251.3L612.5 255.7L612 261.9L609 266.8L604.9 270.3L603.3 265.7L600.2 264.5L596.2 263.1L593.2 258.1L590.2 254.1L589.2 260.1L590.2 270.2L593.2 276.2L595.2 283.2L600.2 290.2L604.3 295.3L602.2 293.9L597.2 287.6L592.2 281.2L589.2 274.2L586.2 265.1L582 255L575.5 242L569.9 236L566.5 232L565.1 232.4L561.1 233.4L558.1 229.4L555.6 226.3L552.6 234.3L547.6 240.4L543.6 246.4L540.6 254.4L538.6 262L536 270L533 274L530.5 270L527 264.1L522 254.4L518.6 242.5L517.6 235.4L516.6 232.4L514.6 234.4L509.5 233.4L506.5 230.4L504.4 226.3L500.4 223.3L498.4 223.3L493.4 224.3L488.4 223.3L482 222L478 219L473 220L466 217L460 212L455 207L450.2 208.2L455.5 213.6L459.2 218.5L461.7 223.4L464.5 222L466 217.8L467.4 223.4L469 225L474 223L478.5 221.8L480.5 226.5L484.3 229.6L483.5 234.1L480.5 238.7L474.4 243.2L469.9 247.8L465.3 251.6L457.7 254.6L450.1 257.7L444.4 260.4L442.5 256.1L438.8 250.6L435.1 244.4L431.4 237L427.7 229L422.8 220.3L419.8 213L419.3 208.2L421 206L419.1 198.2L420.1 193.2L422.1 188.2L419.3 188.4L414.2 189L409.2 188.4L404.1 189L400.3 185.8L399 180.8L396.5 175.7L395.1 180.1L391.5 179.5L388.7 180.7L391.3 185.8L391.3 190.8L387.5 192.1L388.7 189.6L386.2 187L383.7 183.2L381.7 179.4L378.6 175.6L374.1 171.8L369.7 168L365.3 164.2L364 164.9L365.9 169.3L369.1 173.1L372.9 176.3L377.3 180.1L379.2 182L376 183.2L375.4 186.4L373.5 188.3L371.6 184.5L368.4 180.7L364.6 176.9L360.8 173.1L357.7 169.9L355.8 168.7L354.5 169.3L350.7 170.6L345.6 171.2L341.8 171.8L338 174.4L336.1 178.2L334.2 183.2L330.4 187L324.1 189.6L319 192.1L315.8 190.2L312.7 188.3L312 183.2L312.7 178.2L312.7 173.1L313.3 168.7L316.5 167.4L322.8 167.4L329.2 168.7L333.2 169.3L333.6 165.5L333 160.4L329.8 157.2L327.2 153.4L331.7 151.5L335.5 150.3L339.3 147.7L343.1 145.8L346.9 142L350.7 139.5L354 138L358.3 137L357.7 134.5L357.7 129.4L360.8 128.2L362.1 132L360.2 135.8L364.4 137.2L367.9 137.8L371.3 138.3L375.9 137.2L380.5 136L382.7 133.8L381.6 132L383.3 129.2L385 126.9L383.9 124.6L385 121.7L388.5 121.2L393 120L395.5 118.6L394.2 117.2L391.9 118.3L387.3 118.9L382.7 118.3L381.6 116.6L380.5 113.2L382.2 110.3L384.5 107.5L384.5 104.6L382.7 103.4L381 104L379.3 106.9L377.6 109.7L376.5 113.2L377 116.6L378.2 119.5L376.5 122.3L375.9 125.8L374.2 129.2L371.9 132L369.6 133.8L366.7 133.2L364.4 130.3L363.3 126.9L362.2 124L360.4 124L358.2 125.8L354.2 126.9L350.1 124.6L349.6 120Z" fill="none" stroke="#46c8f5" stroke-width=".7" stroke-linejoin="round"/>
<circle cx="571.5" cy="254.5" r="0.7" fill="#46c8f5"/>
<circle cx="572.1" cy="258.1" r="0.7" fill="#46c8f5"/>
<circle cx="572.5" cy="262.1" r="0.7" fill="#46c8f5"/>
<circle cx="573.1" cy="266.1" r="0.7" fill="#46c8f5"/>
<circle cx="741.4" cy="320.5" r="0.7" fill="#46c8f5"/>
<circle cx="744.4" cy="323.1" r="0.7" fill="#46c8f5"/>
<circle cx="747.5" cy="326.1" r="0.7" fill="#46c8f5"/>
<circle cx="750.9" cy="330.2" r="0.7" fill="#46c8f5"/>
<circle cx="753.5" cy="332.6" r="0.7" fill="#46c8f5"/>
<circle cx="756.8" cy="353.9" r="0.7" fill="#46c8f5"/>
<circle cx="758.3" cy="361.5" r="0.7" fill="#46c8f5"/>
<circle cx="760.3" cy="367.9" r="0.7" fill="#46c8f5"/>
<circle cx="762.4" cy="375.5" r="0.7" fill="#46c8f5"/>
<circle cx="764.9" cy="385.1" r="0.7" fill="#46c8f5"/>
<circle cx="745.1" cy="372.4" r="0.7" fill="#46c8f5"/>
<circle cx="168.3" cy="240.4" r="0.7" fill="#46c8f5"/>
<circle cx="170.7" cy="243.7" r="0.7" fill="#46c8f5"/>
<circle cx="172.7" cy="247.1" r="0.7" fill="#46c8f5"/>
<circle cx="174.3" cy="250.5" r="0.7" fill="#46c8f5"/>
<circle cx="175.1" cy="255.1" r="0.7" fill="#46c8f5"/>
<circle cx="175.5" cy="259.7" r="0.7" fill="#46c8f5"/>
<circle cx="138.6" cy="215.2" r="0.7" fill="#46c8f5"/>
<circle cx="141.6" cy="219.3" r="0.7" fill="#46c8f5"/>
<circle cx="144.6" cy="223.3" r="0.7" fill="#46c8f5"/>
<circle cx="147.6" cy="226.3" r="0.7" fill="#46c8f5"/>
<circle cx="446" cy="333" r="0.7" fill="#46c8f5"/>
<circle cx="448.5" cy="335" r="0.7" fill="#46c8f5"/>
<circle cx="452.7" cy="324.2" r="0.7" fill="#46c8f5"/>
<circle cx="462.5" cy="323.6" r="0.7" fill="#46c8f5"/>
<circle cx="468" cy="312" r="0.7" fill="#46c8f5"/>
<circle cx="471" cy="314" r="0.7" fill="#46c8f5"/>
<circle cx="474" cy="316.5" r="0.7" fill="#46c8f5"/>
<circle cx="470.8" cy="361.5" r="0.7" fill="#46c8f5"/>
<circle cx="470" cy="345.5" r="0.7" fill="#46c8f5"/>
<circle cx="481" cy="346.5" r="0.7" fill="#46c8f5"/>
<circle cx="475.5" cy="358.1" r="1.2" fill="#46c8f5"/>
<path d="M155.2 354.1L160.2 370.2L162.2 390.2L165.3 410.3L168.3 430.4L175 452L186 459 M155.2 354.1L160.2 364.1L170.3 363.1L180.3 360.1L185.3 356.1 M180.3 360.1L182.3 370.2L190.4 376.2L198.4 378.2 M191.4 388.2L190.4 398.3L194.4 406.3 M126.1 309.3L132.1 305.3L143.2 306.3L145.2 312.3L141.2 316.4L140.2 322.4L143.2 328.4L150.2 330.4L152.2 336.4L158.2 337.4 M154.2 292.3L157.2 293.3L162.2 294.3L166.3 290.2L169.3 286.2L174.3 282.2L172.3 278.2 M174.3 292.3L177.3 293.3L181.3 290.2L187.3 289.8L192.4 290.2 M186.5 277.5L187.8 283L187 289.6 M106.4 250.6L111.4 249.4L117.5 248.4 M111 258.5L119 257.5 M117 264L119.5 262 M339.3 259.3L336.3 257.3L338.3 252.3L341.3 249.3 M319.2 264.3L324.2 266.3L330.2 263.3L337.3 261.3 M330.2 266.3L330.6 280.4 M333.3 265L333.6 280.4 M324.5 266.5L325.5 281 M388.2 353.3L387.2 366.4L383.2 368.4L383.2 378.4 M395.2 349.3L404.3 350.3L410.3 346.3L416.3 342.3 M404.3 350.3L402.2 356.3L408.3 361.4 M287.5 248.5L298 249.2L303 256 M350.5 292.5L357.5 292.2L368 292 M355.5 300L367 300.5 M395.5 203.1L395.5 240.5 M360.4 205L357.3 208L358 216 M421.3 296L427 297L436 301 M361.5 122.5L363.4 116.8L365.9 110.4L369.7 104.1L374.8 97.7L381.1 92.7L386.2 89.5L391.3 90.1L395 87 M383 102.8L383.7 96.5L386.2 91.4 M343.1 145.8L346.9 147.7L350.7 150.9L352.6 155.3L350.7 160.4L352 164.2L354.5 169.3 M352.6 155.3L357 157.2L363.4 155.9L363.4 151.5L367.2 149L369.1 145.2L368.4 139.5 M367.2 149L373.5 151.5L379.8 152.2L384.9 151.5L387.5 149L386.2 142.7L383.7 137.6 M354.5 169.3L355.8 165.5L360.8 163.6L365.9 164.2 M357 157.2L360 160.5L366 160L371 158L373.5 151.5 M371 158L376 160.5L385.5 160 M379.8 152.2L381 156L386.3 158 M387.6 141.5L393 143.5L399 142.7 M383.7 137.6L389 136.5L394.5 134 M385 133L390 131.5L395.5 131.8 M384 128.5L390 127L395 128 M386.5 124L393 124.5 M346.9 142.5L349 145.5L346.9 147.7 M350.7 139.5L351.5 143L349 145.5 M388 165.5L393 168.2L399 167 M388 170L392 172L392.5 176L396 176 M386 172.5L386.5 179 M399 158L402 160.5 M360.5 136L361 137.5 M458 160.2L470 164.3L480.1 158.2L492.1 166.3L501.2 167.3L510.2 164.3L518.2 166.3 M466 166.3L478.1 172.3L490.1 180.3L498.2 182.3 M460.2 180.1L470.3 180.1L480.3 184.1L486.3 190.2L485.3 200.2L488.4 207.2L486.3 210.2L489.4 216.3L488.4 223.3 M438.2 185.1L441 182.5L443.5 179.5L441 176.5 M443.5 179.5L448.5 182 M498.2 182.3L503 178.5L509 179.5 M501.2 167.3L503 172L509.5 173.5L516.2 174.3 M503 172L498 175.5L503 178.5 M480.3 244.4L471.3 246.4L468.3 240.4 M468.3 240.4L474.3 234.4 M422 205.5L426.5 203L429 197.2L422.5 196.5 M420.5 196.5L422.5 192.5 M580.2 242L583.5 236L588 233L587 226 M588 233L593 232.5L596 236.5L594.5 243L601 247L604.5 252 M596 236.5L601 233L606 236 M595.3 254.4L591 251 M626 169.8L631 166L636.5 163 M633 176.2L638.2 176.6 M561.5 214L566.5 213L567 216.5 M105.9 71L73.2 101L76 106.5" fill="none" stroke="#1f5f7d" stroke-opacity=".45" stroke-width=".45" stroke-linejoin="round"/>
</g>
<text x="109.4" y="128.94" font-size="6.4" fill="#1d2a3a" textLength="29.2" lengthAdjust="spacing">Канада</text>
<text x="89.4" y="170.38" font-size="6.8" fill="#1d2a3a" textLength="18" lengthAdjust="spacing">США</text>
<text x="173.3" y="323.92" font-size="7.2" fill="#1d2a3a" textLength="38.1" lengthAdjust="spacing">Бразилия</text>
<text x="477" y="112.91" font-size="6.6" fill="#1d2a3a" textLength="99.3" lengthAdjust="spacing">Российская Федерация</text>
<text x="567.1" y="192.25" font-size="7" fill="#1d2a3a" textLength="23.1" lengthAdjust="spacing">Китай</text>
<text x="520.5" y="232.89" font-size="7.4" fill="#1d2a3a" textLength="24.1" lengthAdjust="spacing">Индия</text>
<text x="623.3" y="320.15" font-size="7" fill="#1d2a3a" textLength="45.2" lengthAdjust="spacing">Индонезия</text>
<text x="646" y="380.18" font-size="6.8" fill="#1d2a3a" textLength="42" lengthAdjust="spacing">Австралия</text>
<text x="654.5" y="175.94" font-size="6.4" fill="#1d2a3a" textLength="23.1" lengthAdjust="spacing">Япония</text>
<text x="75.3" y="219.5" font-size="4.9" text-anchor="middle" fill="#1d2a3a" opacity="0.85">Мексика</text>
<text x="122.9" y="222.9" font-size="4.9" text-anchor="middle" fill="#1d2a3a" opacity="0.85">Куба</text>
<text x="134.1" y="237" font-size="4.9" text-anchor="middle" fill="#1d2a3a" opacity="0.85">Ямайка, Гаити</text>
<text x="76.3" y="247.6" font-size="4.9" text-anchor="middle" fill="#1d2a3a" opacity="0.85">Гватемала</text>
<text x="81.3" y="254.1" font-size="4.9" text-anchor="middle" fill="#1d2a3a" opacity="0.85">Сальвадор</text>
<text x="92.8" y="260.1" font-size="4.9" text-anchor="middle" fill="#1d2a3a" opacity="0.85">Никарагуа</text>
<text x="93.2" y="267.1" font-size="4.9" text-anchor="middle" fill="#1d2a3a" opacity="0.85">Коста-Рика</text>
<text x="116.1" y="249" font-size="4.9" text-anchor="middle" fill="#1d2a3a" opacity="0.85">Гондурас</text>
<text x="169.3" y="227.6" font-size="4.9" text-anchor="middle" fill="#1d2a3a" opacity="0.85">Доминик. Респ.</text>
<text x="159.2" y="271.4" font-size="4.9" text-anchor="middle" fill="#1d2a3a" opacity="0.85">Венесуэла</text>
<text x="141.2" y="286.3" font-size="4.9" text-anchor="middle" fill="#1d2a3a" opacity="0.85">Колумбия</text>
<text x="117.7" y="302" font-size="4.9" text-anchor="middle" fill="#1d2a3a" opacity="0.85">Эквадор</text>
<text x="132.1" y="319.4" font-size="4.9" text-anchor="middle" fill="#1d2a3a" opacity="0.85">Перу</text>
<text x="118.1" y="276.9" font-size="4.9" text-anchor="middle" fill="#1d2a3a" opacity="0.85">Панама</text>
<text x="185.3" y="266.8" font-size="4.9" text-anchor="middle" fill="#1d2a3a" opacity="0.85">Тринидад</text>
<text x="184.3" y="271.4" font-size="4.9" text-anchor="middle" fill="#1d2a3a" opacity="0.85">и Тобаго</text>
<text x="183.3" y="277.9" font-size="4.9" text-anchor="middle" fill="#1d2a3a" opacity="0.85">Гайана</text>
<text x="169.3" y="353.8" font-size="4.9" text-anchor="middle" fill="#1d2a3a" opacity="0.85">Боливия</text>
<text x="151.2" y="370.8" font-size="4.9" text-anchor="middle" fill="#1d2a3a" opacity="0.85">Чили</text>
<text x="194.4" y="369.4" font-size="4.9" text-anchor="middle" fill="#1d2a3a" opacity="0.85">Парагвай</text>
<text x="176.9" y="389.9" font-size="4.9" text-anchor="middle" fill="#1d2a3a" opacity="0.85">Аргентина</text>
<text x="192" y="398.9" font-size="4.9" text-anchor="middle" fill="#1d2a3a" opacity="0.85">Уругвай</text>
<text x="351.8" y="117.1" font-size="4.6" text-anchor="middle" fill="#1d2a3a" opacity="0.85">Норвегия</text>
<text x="390.4" y="111.2" font-size="4.6" text-anchor="middle" fill="#1d2a3a" opacity="0.85">Финляндия</text>
<text x="374.3" y="121.3" font-size="4.6" text-anchor="middle" fill="#1d2a3a" opacity="0.85">Швеция</text>
<text x="329.1" y="127.7" font-size="4.6" text-anchor="middle" fill="#1d2a3a" opacity="0.85">Великобритания</text>
<text x="311" y="139.8" font-size="4.6" text-anchor="middle" fill="#1d2a3a" opacity="0.85">Ирландия</text>
<text x="352.6" y="133.1" font-size="4.6" text-anchor="middle" fill="#1d2a3a" opacity="0.85">Дания</text>
<text x="337.1" y="141.4" font-size="4.6" text-anchor="middle" fill="#1d2a3a" opacity="0.85">Нидерланды</text>
<text x="331.1" y="149.4" font-size="4.6" text-anchor="middle" fill="#1d2a3a" opacity="0.85">Бельгия</text>
<text x="358.2" y="149.8" font-size="4.6" text-anchor="middle" fill="#1d2a3a" opacity="0.85">Германия</text>
<text x="378.3" y="147.4" font-size="4.6" text-anchor="middle" fill="#1d2a3a" opacity="0.85">Польша</text>
<text x="406.4" y="140.8" font-size="4.6" text-anchor="middle" fill="#1d2a3a" opacity="0.85">Беларусь</text>
<text x="408.4" y="153.4" font-size="4.6" text-anchor="middle" fill="#1d2a3a" opacity="0.85">Украина</text>
<text x="412.4" y="159.8" font-size="4.6" text-anchor="middle" fill="#1d2a3a" opacity="0.85">Молдова</text>
<text x="334.1" y="163.9" font-size="4.6" text-anchor="middle" fill="#1d2a3a" opacity="0.85">Франция</text>
<text x="326.1" y="179.3" font-size="4.6" text-anchor="middle" fill="#1d2a3a" opacity="0.85">Испания</text>
<text x="306" y="183.9" font-size="4.6" text-anchor="middle" fill="#1d2a3a" opacity="0.85">Португалия</text>
<text x="361.2" y="175.9" font-size="4.6" text-anchor="middle" fill="#1d2a3a" opacity="0.85">Италия</text>
<text x="386.3" y="191.4" font-size="4.6" text-anchor="middle" fill="#1d2a3a" opacity="0.85">Греция</text>
<text x="411.4" y="171.5" font-size="4.6" text-anchor="middle" fill="#1d2a3a" opacity="0.85">Болгария</text>
<text x="392.4" y="163.5" font-size="4.6" text-anchor="middle" fill="#1d2a3a" opacity="0.85">Рум.</text>
<text x="369.3" y="154.8" font-size="4.6" text-anchor="middle" fill="#1d2a3a" opacity="0.85">Ч. Р.</text>
<text x="382.3" y="155.4" font-size="4.6" text-anchor="middle" fill="#1d2a3a" opacity="0.85">Слов.</text>
<text x="370.3" y="159.4" font-size="4.6" text-anchor="middle" fill="#1d2a3a" opacity="0.85">Авс.</text>
<text x="380.3" y="161.8" font-size="4.6" text-anchor="middle" fill="#1d2a3a" opacity="0.85">Вен.</text>
<text x="385.3" y="168.9" font-size="4.6" text-anchor="middle" fill="#1d2a3a" opacity="0.85">Серб.</text>
<text x="375.3" y="168.9" font-size="4.6" text-anchor="middle" fill="#1d2a3a" opacity="0.85">Б. Г.</text>
<text x="376.3" y="178.9" font-size="4.6" text-anchor="middle" fill="#1d2a3a" opacity="0.85">Алб.</text>
<text x="388.4" y="184.9" font-size="4.6" text-anchor="middle" fill="#1d2a3a" opacity="0.85">Мак.</text>
<text x="352.6" y="163.5" font-size="4.6" text-anchor="middle" fill="#1d2a3a" opacity="0.85">Швейц.</text>
<text x="384.3" y="138.2" font-size="4.6" text-anchor="middle" fill="#1d2a3a" opacity="0.85">Лит.</text>
<text x="384.3" y="132.7" font-size="4.6" text-anchor="middle" fill="#1d2a3a" opacity="0.85">Латв.</text>
<text x="386.3" y="124.7" font-size="4.6" text-anchor="middle" fill="#1d2a3a" opacity="0.85">Эст.</text>
<text x="305.7" y="204.4" font-size="4.9" text-anchor="middle" fill="#1d2a3a" opacity="0.85">Марокко</text>
<text x="338.3" y="217.8" font-size="4.9" text-anchor="middle" fill="#1d2a3a" opacity="0.85">Алжир</text>
<text x="359" y="199.3" font-size="4.9" text-anchor="middle" fill="#1d2a3a" opacity="0.85">Тунис</text>
<text x="378.4" y="221.2" font-size="4.9" text-anchor="middle" fill="#1d2a3a" opacity="0.85">Ливия</text>
<text x="407.6" y="225.8" font-size="4.9" text-anchor="middle" fill="#1d2a3a" opacity="0.85">Египет</text>
<text x="297.1" y="243.9" font-size="4.9" text-anchor="middle" fill="#1d2a3a" opacity="0.85">Мавритания</text>
<text x="329.2" y="246.3" font-size="4.9" text-anchor="middle" fill="#1d2a3a" opacity="0.85">Мали</text>
<text x="354.3" y="251.5" font-size="4.9" text-anchor="middle" fill="#1d2a3a" opacity="0.85">Нигер</text>
<text x="379.4" y="258" font-size="4.9" text-anchor="middle" fill="#1d2a3a" opacity="0.85">Чад</text>
<text x="406.5" y="260" font-size="4.9" text-anchor="middle" fill="#1d2a3a" opacity="0.85">Судан</text>
<text x="285.1" y="252.5" font-size="4.9" text-anchor="middle" fill="#1d2a3a" opacity="0.85">Сенегал</text>
<text x="273" y="258.4" font-size="4.9" text-anchor="middle" fill="#1d2a3a" opacity="0.85">Гамбия</text>
<text x="275.6" y="264.4" font-size="4.9" text-anchor="middle" fill="#1d2a3a" opacity="0.85">Гвинея-Бисау</text>
<text x="283.1" y="270.6" font-size="4.9" text-anchor="middle" fill="#1d2a3a" opacity="0.85">Гвинея</text>
<text x="276.4" y="276" font-size="4.9" text-anchor="middle" fill="#1d2a3a" opacity="0.85">Сьерра-Леоне</text>
<text x="291.1" y="283.1" font-size="4.9" text-anchor="middle" fill="#1d2a3a" opacity="0.85">Либерия</text>
<text x="314.6" y="274" font-size="4.9" text-anchor="middle" fill="#1d2a3a" opacity="0.85">Кот-</text>
<text x="315.8" y="279.1" font-size="4.9" text-anchor="middle" fill="#1d2a3a" opacity="0.85">д’Ивуар</text>
<text x="327.2" y="260" font-size="4.9" text-anchor="middle" fill="#1d2a3a" opacity="0.85">Буркина</text>
<text x="327.2" y="264" font-size="4.9" text-anchor="middle" fill="#1d2a3a" opacity="0.85">Фасо</text>
<text x="349.3" y="272.4" font-size="4.9" text-anchor="middle" fill="#1d2a3a" opacity="0.85">Нигерия</text>
<text x="383.5" y="278.1" font-size="4.9" text-anchor="middle" fill="#1d2a3a" opacity="0.85">Центр.</text>
<text x="383.5" y="283.1" font-size="4.9" text-anchor="middle" fill="#1d2a3a" opacity="0.85">Афр. Респ.</text>
<text x="352.3" y="290.1" font-size="4.9" text-anchor="middle" fill="#1d2a3a" opacity="0.85">Камерун</text>
<text x="328.2" y="294.1" font-size="4.9" text-anchor="middle" fill="#1d2a3a" opacity="0.85">Экв. Гвинея</text>
<text x="435.4" y="275.3" font-size="4.9" text-anchor="middle" fill="#1d2a3a" opacity="0.85">Эфиопия</text>
<text x="360.1" y="302.8" font-size="4.9" text-anchor="middle" fill="#1d2a3a" opacity="0.85">Габон</text>
<text x="421.3" y="291.7" font-size="4.9" text-anchor="middle" fill="#1d2a3a" opacity="0.85">Уганда</text>
<text x="453.5" y="290.3" font-size="4.9" text-anchor="middle" fill="#1d2a3a" opacity="0.85">Сомали</text>
<text x="431" y="298.8" font-size="4.9" text-anchor="middle" fill="#1d2a3a" opacity="0.85">Кения</text>
<text x="390.8" y="308.8" font-size="4.9" text-anchor="middle" fill="#1d2a3a" opacity="0.85">ДР Конго</text>
<text x="444.4" y="305.8" font-size="4.9" text-anchor="middle" fill="#1d2a3a" opacity="0.85">Руанда</text>
<text x="443.4" y="314.2" font-size="4.9" text-anchor="middle" fill="#1d2a3a" opacity="0.85">Бурунди</text>
<text x="345" y="319.5" font-size="4.9" text-anchor="middle" fill="#1d2a3a" opacity="0.85">Респ. Конго</text>
<text x="428.4" y="321.9" font-size="4.9" text-anchor="middle" fill="#1d2a3a" opacity="0.85">Танзания</text>
<text x="415.3" y="331.5" font-size="4.9" text-anchor="middle" fill="#1d2a3a" opacity="0.85">Замбия</text>
<text x="376.1" y="335.5" font-size="4.9" text-anchor="middle" fill="#1d2a3a" opacity="0.85">Ангола</text>
<text x="415.3" y="355" font-size="4.9" text-anchor="middle" fill="#1d2a3a" opacity="0.85">Зимбабве</text>
<text x="373.1" y="356" font-size="4.9" text-anchor="middle" fill="#1d2a3a" opacity="0.85">Намибия</text>
<text x="370.1" y="371.1" font-size="4.9" text-anchor="middle" fill="#1d2a3a" opacity="0.85">Ботсвана</text>
<text x="423.3" y="369.7" font-size="4.9" text-anchor="middle" fill="#1d2a3a" opacity="0.85">Мозамбик</text>
<text x="451.7" y="355.1" font-size="4.9" text-anchor="middle" fill="#1d2a3a" opacity="0.85">Мадагаскар</text>
<text x="477.3" y="354.8" font-size="4.9" text-anchor="middle" fill="#1d2a3a" opacity="0.85">Маврикий</text>
<text x="461.3" y="330.4" font-size="4.9" text-anchor="middle" fill="#1d2a3a" opacity="0.85">Коморские о-ва</text>
<text x="435" y="341.6" font-size="4.9" text-anchor="middle" fill="#1d2a3a" opacity="0.85">Малави</text>
<text x="428.2" y="383" font-size="4.9" text-anchor="middle" fill="#1d2a3a" opacity="0.85">Свазиленд</text>
<text x="416.1" y="391.3" font-size="4.9" text-anchor="middle" fill="#1d2a3a" opacity="0.85">Лесото</text>
<text x="389.8" y="391.3" font-size="4.9" text-anchor="middle" fill="#1d2a3a" opacity="0.85">ЮАР</text>
<text x="417.1" y="182.2" font-size="4.9" text-anchor="middle" fill="#1d2a3a" opacity="0.85">Турция</text>
<text x="435.1" y="166.1" font-size="4.9" text-anchor="middle" fill="#1d2a3a" opacity="0.85">Грузия</text>
<text x="455.2" y="173.4" font-size="4.9" text-anchor="middle" fill="#1d2a3a" opacity="0.85">Азербайджан</text>
<text x="451.2" y="183.2" font-size="4.9" text-anchor="middle" fill="#1d2a3a" opacity="0.85">Армения</text>
<text x="430.1" y="189.8" font-size="4.9" text-anchor="middle" fill="#1d2a3a" opacity="0.85">Сир.</text>
<text x="432.1" y="194.2" font-size="4.9" text-anchor="middle" fill="#1d2a3a" opacity="0.85">Араб. Р.</text>
<text x="437.1" y="200.9" font-size="4.9" text-anchor="middle" fill="#1d2a3a" opacity="0.85">Ирак</text>
<text x="467.3" y="197.9" font-size="4.9" text-anchor="middle" fill="#1d2a3a" opacity="0.85">Иран</text>
<text x="408" y="189.2" font-size="4.9" text-anchor="middle" fill="#1d2a3a" opacity="0.85">Кипр</text>
<text x="406" y="197.9" font-size="4.9" text-anchor="middle" fill="#1d2a3a" opacity="0.85">Ливан</text>
<text x="436.1" y="209.3" font-size="4.9" text-anchor="middle" fill="#1d2a3a" opacity="0.85">Иордания</text>
<text x="460.2" y="211.5" font-size="4.9" text-anchor="middle" fill="#1d2a3a" opacity="0.85">Кувейт</text>
<text x="443.2" y="220.3" font-size="4.9" text-anchor="middle" fill="#1d2a3a" opacity="0.85">Бахрейн</text>
<text x="467.3" y="221.9" font-size="4.9" text-anchor="middle" fill="#1d2a3a" opacity="0.85">Катар</text>
<text x="479.3" y="227.6" font-size="4.9" text-anchor="middle" fill="#1d2a3a" opacity="0.85">О.А.Э.</text>
<text x="445.2" y="232" font-size="4.9" text-anchor="middle" fill="#1d2a3a" opacity="0.85">Саудовская</text>
<text x="443.2" y="237" font-size="4.9" text-anchor="middle" fill="#1d2a3a" opacity="0.85">Аравия</text>
<text x="476.3" y="242" font-size="4.9" text-anchor="middle" fill="#1d2a3a" opacity="0.85">Оман</text>
<text x="458.2" y="255.7" font-size="4.9" text-anchor="middle" fill="#1d2a3a" opacity="0.85">Р. Йемен</text>
<text x="437.1" y="252.7" font-size="4.9" text-anchor="middle" fill="#1d2a3a" opacity="0.85">Эритрея</text>
<text x="496.4" y="196.8" font-size="4.9" text-anchor="middle" fill="#1d2a3a" opacity="0.85">Афганистан</text>
<text x="500.4" y="212.9" font-size="4.9" text-anchor="middle" fill="#1d2a3a" opacity="0.85">Пакистан</text>
<text x="540.6" y="215.5" font-size="4.9" text-anchor="middle" fill="#1d2a3a" opacity="0.85">Непал</text>
<text x="479.3" y="166.1" font-size="4.9" text-anchor="middle" fill="#1d2a3a" opacity="0.85">Узбекистан</text>
<text x="478.3" y="180.8" font-size="4.9" text-anchor="middle" fill="#1d2a3a" opacity="0.85">Туркменистан</text>
<text x="528.5" y="182.8" font-size="4.9" text-anchor="middle" fill="#1d2a3a" opacity="0.85">Таджикистан</text>
<text x="508.4" y="167.3" font-size="4.9" text-anchor="middle" fill="#1d2a3a" opacity="0.85">Кирг.</text>
<text x="508.4" y="172.1" font-size="4.9" text-anchor="middle" fill="#1d2a3a" opacity="0.85">Респ.</text>
<text x="414.1" y="206.3" font-size="4.9" text-anchor="middle" fill="#1d2a3a" opacity="0.85">Израиль,</text>
<text x="412.4" y="210.9" font-size="4.9" text-anchor="middle" fill="#1d2a3a" opacity="0.85">т. б. р. Иордан</text>
<text x="412.4" y="215.5" font-size="4.9" text-anchor="middle" fill="#1d2a3a" opacity="0.85">и сект. Газа</text>
<text x="487.4" y="151.5" font-size="4.9" text-anchor="middle" fill="#1d2a3a" opacity="0.85">Казахстан</text>
<text x="568.2" y="155.7" font-size="4.9" text-anchor="middle" fill="#1d2a3a" opacity="0.85">Монголия</text>
<text x="557.1" y="210.3" font-size="4.9" text-anchor="middle" fill="#1d2a3a" opacity="0.85">Бутан</text>
<text x="595.3" y="222" font-size="4.9" text-anchor="middle" fill="#1d2a3a" opacity="0.85">Лаосская</text>
<text x="590.2" y="227" font-size="4.9" text-anchor="middle" fill="#1d2a3a" opacity="0.85">НДР</text>
<text x="558.1" y="239.5" font-size="4.9" text-anchor="middle" fill="#1d2a3a" opacity="0.85">Бангладеш</text>
<text x="568.2" y="245.1" font-size="4.9" text-anchor="middle" fill="#1d2a3a" opacity="0.85">Мьянма</text>
<text x="618.4" y="251.7" font-size="4.9" text-anchor="middle" fill="#1d2a3a" opacity="0.85">Вьетнам</text>
<text x="642.4" y="252.5" font-size="4.9" text-anchor="middle" fill="#1d2a3a" opacity="0.85">Филиппины</text>
<text x="620.9" y="175.4" font-size="4.9" text-anchor="middle" fill="#1d2a3a" opacity="0.85">КНДР</text>
<text x="627.2" y="187.2" font-size="4.9" text-anchor="middle" fill="#1d2a3a" opacity="0.85">Р. Корея</text>
<text x="611.3" y="261.8" font-size="4.9" text-anchor="middle" fill="#1d2a3a" opacity="0.85">Камбоджа</text>
<text x="586.6" y="274.4" font-size="4.9" text-anchor="middle" fill="#1d2a3a" opacity="0.85">Таиланд</text>
<text x="555.1" y="277.4" font-size="4.9" text-anchor="middle" fill="#1d2a3a" opacity="0.85">Шри-Ланка</text>
<text x="615.3" y="290.5" font-size="4.9" text-anchor="middle" fill="#1d2a3a" opacity="0.85">Малайзия</text>
<text x="585.2" y="295.5" font-size="4.9" text-anchor="middle" fill="#1d2a3a" opacity="0.85">Сингапур</text>
<text x="673.5" y="336.1" font-size="4.9" text-anchor="middle" fill="#1d2a3a" opacity="0.85">Тимор-Лешти</text>
<text x="707.3" y="316.8" font-size="4.9" text-anchor="middle" fill="#1d2a3a" opacity="0.85">Папуа –</text>
<text x="707.9" y="322.2" font-size="4.9" text-anchor="middle" fill="#1d2a3a" opacity="0.85">Новая Гвинея</text>
<text x="740.4" y="325.8" font-size="4.9" text-anchor="middle" fill="#1d2a3a" opacity="0.85">Соломоновы</text>
<text x="745.5" y="330.8" font-size="4.9" text-anchor="middle" fill="#1d2a3a" opacity="0.85">острова</text>
<text x="779.6" y="365.6" font-size="4.9" text-anchor="middle" fill="#1d2a3a" opacity="0.85">Фиджи</text>
<text x="721.5" y="427.4" font-size="4.9" text-anchor="middle" fill="#1d2a3a" opacity="0.85">Новая</text>
<text x="717.8" y="432.7" font-size="4.9" text-anchor="middle" fill="#1d2a3a" opacity="0.85">Зеландия</text>
<path d="M88.4 246.0L94.4 246.0" stroke="#1d2a3a" stroke-width=".5"/>
<path d="M94.0 252.4L100.4 252.4" stroke="#1d2a3a" stroke-width=".5"/>
<path d="M104.8 258.4L111.4 258.4" stroke="#1d2a3a" stroke-width=".5"/>
<path d="M105.8 265.4L113.5 265.4" stroke="#1d2a3a" stroke-width=".5"/>
<path d="M410.3 305.1L436.4 305.1" stroke="#1d2a3a" stroke-width=".5"/>
<path d="M410.3 312.6L435.4 312.6" stroke="#1d2a3a" stroke-width=".5"/>
<path d="M351.0 311.2L359.1 311.2" stroke="#1d2a3a" stroke-width=".5"/>
<path d="M425.3 344.3L428.4 344.3" stroke="#1d2a3a" stroke-width=".5"/>
<path d="M379.2 369.8L383.2 369.8" stroke="#1d2a3a" stroke-width=".5"/>
<path d="M254.2 3.4H258V115H3.7V111.5H254.2Z" fill="#3d6488"/>
<rect x="0" y="0" width="254.2" height="111.5" fill="#fff" fill-opacity="0"/>
<rect x="0" y="0" width="254.2" height="111.5" fill="url(#gBox)"/>
<text x="3.6" y="11.2" font-size="9.3" font-weight="bold" fill="#111" textLength="209" lengthAdjust="spacingAndGlyphs">УНИЧТОЖЕНИЕ ГРАЖДАНСКОГО НАСЕЛЕНИЯ</text>
<text x="3.6" y="22.6" font-size="8.9" fill="#444444" textLength="234.4" lengthAdjust="spacingAndGlyphs">Общее количество лет, на протяжении которых страна</text>
<text x="3.6" y="33.6" font-size="8.9" fill="#444444" textLength="234.4" lengthAdjust="spacingAndGlyphs">сталкивалась с актами одностороннего насилия, унес-</text>
<text x="3.6" y="44.5" font-size="8.9" fill="#444444" textLength="133" lengthAdjust="spacingAndGlyphs">ших жизни 25 и более человек</text>
<text x="3.6" y="55.6" font-size="8.9" font-style="italic" fill="#444444" textLength="43" lengthAdjust="spacingAndGlyphs">1989–2005</text>
<rect x="3.6" y="66.2" width="14" height="10.2" fill="#f52f3c"/>
<rect x="3.6" y="80.9" width="14" height="10.2" fill="#cf3c9e"/>
<rect x="3.6" y="94.8" width="14" height="10.2" fill="#8f95d0"/>
<rect x="107.2" y="66.2" width="14" height="10.2" fill="#33bca3"/>
<rect x="107.2" y="80.9" width="14" height="10.2" fill="#46c8f5"/>
<rect x="107.2" y="94.8" width="14" height="10.2" fill="#c6c3c3"/>
<text x="22.2" y="74.8" font-size="9.4" fill="#444444" textLength="10" lengthAdjust="spacingAndGlyphs">17</text>
<text x="22.2" y="89.5" font-size="9.4" fill="#444444" textLength="26.5" lengthAdjust="spacingAndGlyphs">11–15</text>
<text x="22.2" y="103.3" font-size="9.4" fill="#444444" textLength="21.5" lengthAdjust="spacingAndGlyphs">6–10</text>
<text x="127" y="74.8" font-size="9.4" fill="#444444" textLength="15.5" lengthAdjust="spacingAndGlyphs">1–5</text>
<text x="127" y="89.5" font-size="9.4" fill="#444444" textLength="5" lengthAdjust="spacingAndGlyphs">0</text>
<text x="127" y="103.3" font-size="9.4" fill="#444444" textLength="78" lengthAdjust="spacingAndGlyphs">данные отсутствуют</text>
<rect x="395" y="3.4" width="395" height="26.6" fill="url(#gTitle)"/>
<text x="591" y="20.9" font-size="15.4" font-weight="bold" fill="#15151c" textLength="195" lengthAdjust="spacingAndGlyphs">Одностороннее насилие</text>
<text x="730" y="42.9" font-size="9.7" font-weight="bold" fill="#1c1c1c" textLength="55" lengthAdjust="spacingAndGlyphs">Почти треть</text>
<text x="705.3" y="55.53" font-size="9.7" font-weight="bold" fill="#1c1c1c" textLength="79.7" lengthAdjust="spacingAndGlyphs">государств мира</text>
<text x="696.2" y="68.16" font-size="9.7" font-weight="bold" fill="#1c1c1c" textLength="88.8" lengthAdjust="spacingAndGlyphs">охватили военные</text>
<text x="734.3" y="80.79" font-size="9.7" font-weight="bold" fill="#1c1c1c" textLength="50.7" lengthAdjust="spacingAndGlyphs">кампании,</text>
<text x="717" y="93.42" font-size="9.7" font-weight="bold" fill="#1c1c1c" textLength="68" lengthAdjust="spacingAndGlyphs">направленные</text>
<text x="711" y="106.05" font-size="9.7" font-weight="bold" fill="#1c1c1c" textLength="74" lengthAdjust="spacingAndGlyphs">против мирных</text>
<text x="697.3" y="118.68" font-size="9.7" font-weight="bold" fill="#1c1c1c" textLength="87.7" lengthAdjust="spacingAndGlyphs">жителей в период</text>
<text x="705.7" y="131.31" font-size="9.7" font-weight="bold" fill="#1c1c1c" textLength="79.3" lengthAdjust="spacingAndGlyphs">с 1989 по 2005 г.</text>
<ellipse cx="214.4" cy="189.5" rx="69.9" ry="35.1" fill="#3c5e85"/>
<ellipse cx="219" cy="184.9" rx="69.9" ry="35.1" fill="url(#gEl)"/>
<ellipse cx="285.4" cy="370.4" rx="67.8" ry="33.2" fill="#3c5e85"/>
<ellipse cx="290" cy="365.8" rx="67.8" ry="33.2" fill="url(#gEl)"/>
<ellipse cx="556.7" cy="354.6" rx="67.5" ry="34.7" fill="#3c5e85"/>
<ellipse cx="561.3" cy="350" rx="67.5" ry="34.7" fill="url(#gEl)"/>
<ellipse cx="715.1" cy="228.3" rx="67.4" ry="33.8" fill="#3c5e85"/>
<ellipse cx="719.7" cy="223.7" rx="67.4" ry="33.8" fill="url(#gEl)"/>
<text x="218.5" y="174.7" font-size="6.29" text-anchor="middle" class="sf" fill="#20222e" textLength="118.5" lengthAdjust="spacingAndGlyphs">Теракт 11 сентября в Нью-Йорке и захват</text>
<text x="218.5" y="182.4" font-size="6.29" text-anchor="middle" class="sf" fill="#20222e" textLength="102.3" lengthAdjust="spacingAndGlyphs">самолета, потерпевшего крушение</text>
<text x="218.5" y="190.1" font-size="6.29" text-anchor="middle" class="sf" fill="#20222e" textLength="91.1" lengthAdjust="spacingAndGlyphs">в Пенсильвании, — единый акт</text>
<text x="218.5" y="197" font-size="6.29" text-anchor="middle" class="sf" fill="#20222e" textLength="119.5" lengthAdjust="spacingAndGlyphs">одностороннего насилия, совершенный</text>
<text x="218.5" y="204.1" font-size="6.29" text-anchor="middle" class="sf" fill="#20222e" textLength="68.9" lengthAdjust="spacingAndGlyphs">в Соединенных Штатах.</text>
<text x="288.8" y="348.2" font-size="6.42" text-anchor="middle" class="sf" fill="#20222e" textLength="89.1" lengthAdjust="spacingAndGlyphs">По разным данным, от 500 000</text>
<text x="288.8" y="355.3" font-size="6.42" text-anchor="middle" class="sf" fill="#20222e" textLength="112.4" lengthAdjust="spacingAndGlyphs">до 800 000 человек погибли в результате</text>
<text x="288.8" y="363.4" font-size="6.42" text-anchor="middle" class="sf" fill="#20222e" textLength="81" lengthAdjust="spacingAndGlyphs">геноцида в Руанде в 1994 г.,</text>
<text x="288.8" y="371.1" font-size="6.42" text-anchor="middle" class="sf" fill="#20222e" textLength="103.3" lengthAdjust="spacingAndGlyphs">что как минимум в пять раз больше,</text>
<text x="288.8" y="378.2" font-size="6.42" text-anchor="middle" class="sf" fill="#20222e" textLength="84.1" lengthAdjust="spacingAndGlyphs">чем в ходе всех прочих актов</text>
<text x="288.8" y="385.7" font-size="6.42" text-anchor="middle" class="sf" fill="#20222e" textLength="99.2" lengthAdjust="spacingAndGlyphs">одностороннего насилия с 1989 г.</text>
<text x="561.8" y="330.7" font-size="6.56" text-anchor="middle" class="sf" fill="#20222e" textLength="71.9" lengthAdjust="spacingAndGlyphs">Одностороннее насилие</text>
<text x="561.8" y="338.4" font-size="6.56" text-anchor="middle" class="sf" fill="#20222e" textLength="86.1" lengthAdjust="spacingAndGlyphs">со стороны Курдской рабочей</text>
<text x="561.8" y="345.8" font-size="6.56" text-anchor="middle" class="sf" fill="#20222e" textLength="111.4" lengthAdjust="spacingAndGlyphs">партии, унесшее жизни как минимум</text>
<text x="561.8" y="352.9" font-size="6.56" text-anchor="middle" class="sf" fill="#20222e" textLength="93.2" lengthAdjust="spacingAndGlyphs">1200 мирных жителей в период</text>
<text x="561.8" y="360.6" font-size="6.56" text-anchor="middle" class="sf" fill="#20222e" textLength="90.1" lengthAdjust="spacingAndGlyphs">с 1989 по 1999 г., было связано</text>
<text x="561.8" y="367.7" font-size="6.56" text-anchor="middle" class="sf" fill="#20222e" textLength="73.9" lengthAdjust="spacingAndGlyphs">с конфликтом с участием</text>
<text x="561.8" y="374.8" font-size="6.56" text-anchor="middle" class="sf" fill="#20222e" textLength="35.4" lengthAdjust="spacingAndGlyphs">государства.</text>
<text x="718.7" y="209.1" font-size="6.44" text-anchor="middle" class="sf" fill="#20222e" textLength="79.7" lengthAdjust="spacingAndGlyphs">Правительство Индонезии,</text>
<text x="718.7" y="217" font-size="6.44" text-anchor="middle" class="sf" fill="#20222e" textLength="105.4" lengthAdjust="spacingAndGlyphs">движение «Свободный Ачех» (GAM)</text>
<text x="718.7" y="224.4" font-size="6.44" text-anchor="middle" class="sf" fill="#20222e" textLength="113" lengthAdjust="spacingAndGlyphs">и исламистская группировка «Джемаа</text>
<text x="718.7" y="231.8" font-size="6.44" text-anchor="middle" class="sf" fill="#20222e" textLength="97.8" lengthAdjust="spacingAndGlyphs">Исламия» совершали нападения</text>
<text x="718.7" y="238.9" font-size="6.44" text-anchor="middle" class="sf" fill="#20222e" textLength="64.6" lengthAdjust="spacingAndGlyphs">на мирное население.</text>
<rect x="256.9" y="445.6" width="22.6" height="102.7" fill="#f92f40" stroke="#2e3c86" stroke-width="1.1"/>
<text x="268.2" y="442" font-size="7" text-anchor="middle" font-weight="bold" fill="#23232b" textLength="5.8" lengthAdjust="spacingAndGlyphs">17</text>
<text x="268.2" y="556.2" font-size="6.6" text-anchor="middle" font-weight="bold" fill="#23232b" textLength="15.4" lengthAdjust="spacingAndGlyphs">Индия</text>
<rect x="298.6" y="469.8" width="21.9" height="78.5" fill="#d63c9c" stroke="#2e3c86" stroke-width="1.1"/>
<text x="309.55" y="466.2" font-size="7" text-anchor="middle" font-weight="bold" fill="#23232b" textLength="5.8" lengthAdjust="spacingAndGlyphs">13</text>
<text x="309.55" y="556.2" font-size="6.6" text-anchor="middle" font-weight="bold" fill="#23232b" textLength="24" lengthAdjust="spacingAndGlyphs">Колумбия</text>
<rect x="340.1" y="469.8" width="22.2" height="78.5" fill="#d63c9c" stroke="#2e3c86" stroke-width="1.1"/>
<text x="351.2" y="466.2" font-size="7" text-anchor="middle" font-weight="bold" fill="#23232b" textLength="5.8" lengthAdjust="spacingAndGlyphs">13</text>
<text x="351.2" y="556.2" font-size="6.6" text-anchor="middle" font-weight="bold" fill="#23232b" textLength="42.5" lengthAdjust="spacingAndGlyphs">Демократическая</text>
<text x="351.2" y="563.2" font-size="6.6" text-anchor="middle" font-weight="bold" fill="#23232b" textLength="43.6" lengthAdjust="spacingAndGlyphs">Республика Конго</text>
<rect x="428.2" y="476.4" width="22.0" height="72.4" fill="#d63c9c" stroke="#2e3c86" stroke-width="1.1"/>
<text x="439.2" y="472.2" font-size="6.6" text-anchor="middle" font-weight="bold" fill="#23232b" textLength="5.4" lengthAdjust="spacingAndGlyphs">12</text>
<text x="439.2" y="556.3" font-size="6.6" text-anchor="middle" font-weight="bold" fill="#23232b" textLength="16.4" lengthAdjust="spacingAndGlyphs">Уганда</text>
<rect x="469.3" y="482.3" width="22.1" height="66.5" fill="#d63c9c" stroke="#2e3c86" stroke-width="1.1"/>
<text x="480.35" y="478.1" font-size="6.6" text-anchor="middle" font-weight="bold" fill="#23232b" textLength="5.2" lengthAdjust="spacingAndGlyphs">11</text>
<text x="480.35" y="556.3" font-size="6.6" text-anchor="middle" font-weight="bold" fill="#23232b" textLength="20.8" lengthAdjust="spacingAndGlyphs">Бурунди</text>
<rect x="510.8" y="482.3" width="22.0" height="66.5" fill="#d63c9c" stroke="#2e3c86" stroke-width="1.1"/>
<text x="521.8" y="478.1" font-size="6.6" text-anchor="middle" font-weight="bold" fill="#23232b" textLength="5.2" lengthAdjust="spacingAndGlyphs">11</text>
<text x="521.8" y="556.3" font-size="6.6" text-anchor="middle" font-weight="bold" fill="#23232b" textLength="17.4" lengthAdjust="spacingAndGlyphs">Руанда</text>
<rect x="551.9" y="488.2" width="22.1" height="60.6" fill="#8e94d3" stroke="#2e3c86" stroke-width="1.1"/>
<text x="562.95" y="484" font-size="6.6" text-anchor="middle" font-weight="bold" fill="#23232b" textLength="5.4" lengthAdjust="spacingAndGlyphs">10</text>
<text x="562.95" y="556.3" font-size="6.6" text-anchor="middle" font-weight="bold" fill="#23232b" textLength="17.1" lengthAdjust="spacingAndGlyphs">Ангола</text>
<rect x="593.1" y="488.2" width="22.0" height="60.6" fill="#8e94d3" stroke="#2e3c86" stroke-width="1.1"/>
<text x="604.1" y="484" font-size="6.6" text-anchor="middle" font-weight="bold" fill="#23232b" textLength="5.4" lengthAdjust="spacingAndGlyphs">10</text>
<text x="604.1" y="556.3" font-size="6.6" text-anchor="middle" font-weight="bold" fill="#23232b" textLength="17.3" lengthAdjust="spacingAndGlyphs">Турция</text>
<rect x="634.5" y="494.5" width="22.5" height="54.3" fill="#8e94d3" stroke="#2e3c86" stroke-width="1.1"/>
<text x="645.75" y="490.3" font-size="6.6" text-anchor="middle" font-weight="bold" fill="#23232b" textLength="2.7" lengthAdjust="spacingAndGlyphs">9</text>
<text x="645.75" y="556.3" font-size="6.6" text-anchor="middle" font-weight="bold" fill="#23232b" textLength="26.9" lengthAdjust="spacingAndGlyphs">Шри-Ланка</text>
<text x="428.8" y="415.4" font-size="9.3" font-weight="bold" fill="#111" textLength="122.8" lengthAdjust="spacingAndGlyphs">САМЫЕ ПРОДОЛЖИТЕЛЬНЫЕ</text>
<text x="428.8" y="425.2" font-size="9.3" font-weight="bold" fill="#111" textLength="174.5" lengthAdjust="spacingAndGlyphs">ПЕРИОДЫ ОДНОСТОРОННЕГО НАСИЛИЯ</text>
<text x="428.8" y="435.4" font-size="8.9" fill="#3a3a3a" textLength="154" lengthAdjust="spacingAndGlyphs">Страны, пережившие самые длительные</text>
<text x="428.8" y="445.2" font-size="8.9" fill="#3a3a3a" textLength="131" lengthAdjust="spacingAndGlyphs">периоды одностороннего насилия</text>
<text x="428.8" y="455.2" font-size="8.9" font-style="italic" fill="#3a3a3a" textLength="40.5" lengthAdjust="spacingAndGlyphs">1989–2005</text>
<text x="4.8" y="392.8" font-size="8.3" fill="#484848" textLength="135.5" lengthAdjust="spacingAndGlyphs">Помимо вооруженных конфликтов</text>
<text x="4.8" y="402.29" font-size="8.3" fill="#484848" textLength="135.5" lengthAdjust="spacingAndGlyphs">с участием государств и негосу-</text>
<text x="4.8" y="411.78" font-size="8.3" fill="#484848" textLength="135.5" lengthAdjust="spacingAndGlyphs">дарственных конфликтов выделяют</text>
<text x="4.8" y="421.27" font-size="8.3" fill="#484848" textLength="135.5" lengthAdjust="spacingAndGlyphs">третий тип политического насилия,</text>
<text x="4.8" y="430.76" font-size="8.3" fill="#484848" textLength="135.5" lengthAdjust="spacingAndGlyphs">который включает в себя геноцид,</text>
<text x="4.8" y="440.25" font-size="8.3" fill="#484848" textLength="135.5" lengthAdjust="spacingAndGlyphs">политицид и прочие военные опе-</text>
<text x="4.8" y="449.74" font-size="8.3" fill="#484848" textLength="135.5" lengthAdjust="spacingAndGlyphs">рации, направленные на умышлен-</text>
<text x="4.8" y="459.23" font-size="8.3" fill="#484848" textLength="135.5" lengthAdjust="spacingAndGlyphs">ное уничтожение гражданского на-</text>
<text x="4.8" y="468.72" font-size="8.3" fill="#484848" textLength="135.5" lengthAdjust="spacingAndGlyphs">селения. Такие проявления насилия</text>
<text x="4.8" y="478.21" font-size="8.3" fill="#484848" textLength="135.5" lengthAdjust="spacingAndGlyphs">называют «односторонними», так</text>
<text x="4.8" y="487.7" font-size="8.3" fill="#484848" textLength="135.5" lengthAdjust="spacingAndGlyphs">как жертвы, как правило, не могут</text>
<text x="4.8" y="497.19" font-size="8.3" fill="#484848" textLength="135.5" lengthAdjust="spacingAndGlyphs">оказать сопротивления. В то время</text>
<text x="4.8" y="506.68" font-size="8.3" fill="#484848" textLength="135.5" lengthAdjust="spacingAndGlyphs">как с 1992 г. число вооруженных</text>
<text x="4.8" y="516.17" font-size="8.3" fill="#484848" textLength="135.5" lengthAdjust="spacingAndGlyphs">конфликтов пошло на убыль, число</text>
<text x="4.8" y="525.66" font-size="8.3" fill="#484848" textLength="135.5" lengthAdjust="spacingAndGlyphs">актов одностороннего насилия вы-</text>
<text x="4.8" y="535.15" font-size="8.3" fill="#484848" textLength="135.5" lengthAdjust="spacingAndGlyphs">росло более чем вполовину, хотя</text>
<text x="4.8" y="544.64" font-size="8.3" fill="#484848" textLength="135.5" lengthAdjust="spacingAndGlyphs">число погибших в результате таких</text>
<text x="4.8" y="554.13" font-size="8.3" fill="#484848" textLength="135.5" lengthAdjust="spacingAndGlyphs">действий существенно меньше, чем</text>
<text x="4.8" y="563.62" font-size="8.3" fill="#484848" textLength="125" lengthAdjust="spacingAndGlyphs">в ходе вооруженных конфликтов.</text>
<text x="679.4" y="512.3" font-size="6.3" fill="#5e5e5e" textLength="103.7" lengthAdjust="spacingAndGlyphs">Во всех этих странах одностороннее</text>
<text x="679.4" y="519.69" font-size="6.3" fill="#5e5e5e" textLength="103.7" lengthAdjust="spacingAndGlyphs">насилие тесно связано с мятежами,</text>
<text x="679.4" y="527.08" font-size="6.3" fill="#5e5e5e" textLength="95" lengthAdjust="spacingAndGlyphs">гражданскими войнами и негосу-</text>
<text x="679.4" y="534.47" font-size="6.3" fill="#5e5e5e" textLength="84" lengthAdjust="spacingAndGlyphs">дарственными конфликтами.</text>
<text x="679.4" y="541.86" font-size="6.3" fill="#5e5e5e" textLength="103.7" lengthAdjust="spacingAndGlyphs">Индия страдала от одностороннего</text>
<text x="679.4" y="549.25" font-size="6.3" fill="#5e5e5e" textLength="103.7" lengthAdjust="spacingAndGlyphs">насилия на протяжении всех 17 лет,</text>
<text x="679.4" y="556.64" font-size="6.3" fill="#5e5e5e" textLength="103.7" lengthAdjust="spacingAndGlyphs">по которым собраны статистические</text>
<text x="679.4" y="564.03" font-size="6.3" fill="#5e5e5e" textLength="21" lengthAdjust="spacingAndGlyphs">данные.</text>
</svg></body></html>
